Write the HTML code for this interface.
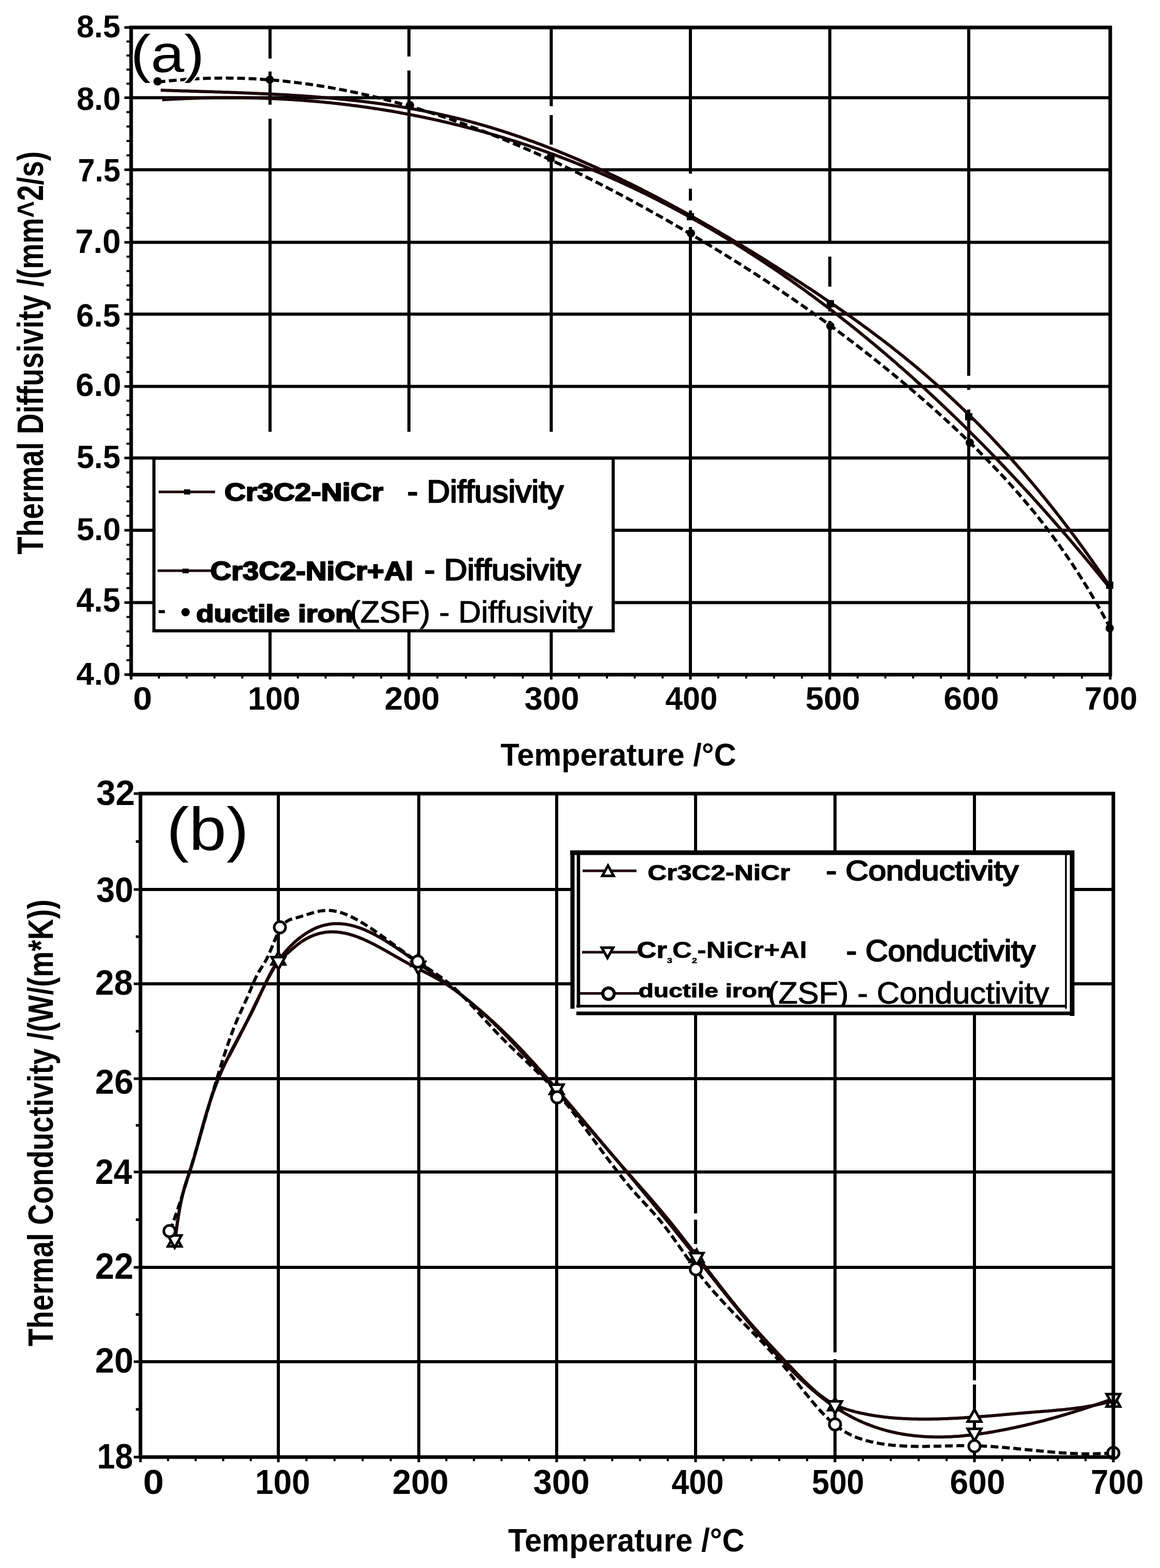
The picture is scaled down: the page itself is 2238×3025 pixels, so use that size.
<!DOCTYPE html>
<html><head><meta charset="utf-8"><title>Thermal diffusivity and conductivity</title>
<style>html,body{margin:0;padding:0;background:#fff;}svg{display:block;}</style></head>
<body><svg width="2238" height="3025" viewBox="0 0 2238 3025"><rect width="2238" height="3025" fill="#fff"/>
<defs><clipPath id="clb3"><rect x="1100" y="1880" width="980" height="63"/></clipPath></defs>
<line x1="253" y1="188.5" x2="2142" y2="188.5" stroke="#000" stroke-width="6" />
<line x1="253" y1="327.5" x2="2142" y2="327.5" stroke="#000" stroke-width="6" />
<line x1="253" y1="467.5" x2="2142" y2="467.5" stroke="#000" stroke-width="6" />
<line x1="253" y1="606" x2="2142" y2="606" stroke="#000" stroke-width="6" />
<line x1="253" y1="745.5" x2="2142" y2="745.5" stroke="#000" stroke-width="6" />
<line x1="253" y1="883.5" x2="2142" y2="883.5" stroke="#000" stroke-width="6" />
<line x1="253" y1="1023" x2="2142" y2="1023" stroke="#000" stroke-width="6" />
<line x1="253" y1="1162.5" x2="2142" y2="1162.5" stroke="#000" stroke-width="6" />
<line x1="521" y1="53" x2="521" y2="113" stroke="#000" stroke-width="6" />
<line x1="521" y1="138" x2="521" y2="202" stroke="#000" stroke-width="6" />
<line x1="521" y1="229" x2="521" y2="833" stroke="#000" stroke-width="6" />
<line x1="521" y1="881" x2="521" y2="1301.5" stroke="#000" stroke-width="6" />
<line x1="789" y1="53" x2="789" y2="109" stroke="#000" stroke-width="6" />
<line x1="789" y1="136" x2="789" y2="833" stroke="#000" stroke-width="6" />
<line x1="789" y1="881" x2="789" y2="1301.5" stroke="#000" stroke-width="6" />
<line x1="1063.5" y1="53" x2="1063.5" y2="205" stroke="#000" stroke-width="6" />
<line x1="1063.5" y1="222" x2="1063.5" y2="279" stroke="#000" stroke-width="6" />
<line x1="1063.5" y1="297" x2="1063.5" y2="833" stroke="#000" stroke-width="6" />
<line x1="1063.5" y1="881" x2="1063.5" y2="1301.5" stroke="#000" stroke-width="6" />
<line x1="1332" y1="53" x2="1332" y2="335" stroke="#000" stroke-width="6" />
<line x1="1332" y1="364" x2="1332" y2="387" stroke="#000" stroke-width="6" />
<line x1="1332" y1="406" x2="1332" y2="424" stroke="#000" stroke-width="6" />
<line x1="1332" y1="438" x2="1332" y2="1301.5" stroke="#000" stroke-width="6" />
<line x1="1601" y1="53" x2="1601" y2="466" stroke="#000" stroke-width="6" />
<line x1="1601" y1="495" x2="1601" y2="553" stroke="#000" stroke-width="6" />
<line x1="1601" y1="583" x2="1601" y2="601" stroke="#000" stroke-width="6" />
<line x1="1601" y1="619" x2="1601" y2="1301.5" stroke="#000" stroke-width="6" />
<line x1="1869" y1="53" x2="1869" y2="725" stroke="#000" stroke-width="6" />
<line x1="1869" y1="742" x2="1869" y2="752" stroke="#000" stroke-width="6" />
<line x1="1869" y1="790" x2="1869" y2="1301.5" stroke="#000" stroke-width="6" />
<line x1="244" y1="80.1" x2="252" y2="80.1" stroke="#000" stroke-width="4" />
<line x1="244" y1="107.2" x2="252" y2="107.2" stroke="#000" stroke-width="4" />
<line x1="244" y1="134.3" x2="252" y2="134.3" stroke="#000" stroke-width="4" />
<line x1="244" y1="161.4" x2="252" y2="161.4" stroke="#000" stroke-width="4" />
<line x1="244" y1="216.3" x2="252" y2="216.3" stroke="#000" stroke-width="4" />
<line x1="244" y1="244.1" x2="252" y2="244.1" stroke="#000" stroke-width="4" />
<line x1="244" y1="271.9" x2="252" y2="271.9" stroke="#000" stroke-width="4" />
<line x1="244" y1="299.7" x2="252" y2="299.7" stroke="#000" stroke-width="4" />
<line x1="244" y1="355.5" x2="252" y2="355.5" stroke="#000" stroke-width="4" />
<line x1="244" y1="383.5" x2="252" y2="383.5" stroke="#000" stroke-width="4" />
<line x1="244" y1="411.5" x2="252" y2="411.5" stroke="#000" stroke-width="4" />
<line x1="244" y1="439.5" x2="252" y2="439.5" stroke="#000" stroke-width="4" />
<line x1="244" y1="495.2" x2="252" y2="495.2" stroke="#000" stroke-width="4" />
<line x1="244" y1="522.9" x2="252" y2="522.9" stroke="#000" stroke-width="4" />
<line x1="244" y1="550.6" x2="252" y2="550.6" stroke="#000" stroke-width="4" />
<line x1="244" y1="578.3" x2="252" y2="578.3" stroke="#000" stroke-width="4" />
<line x1="244" y1="633.9" x2="252" y2="633.9" stroke="#000" stroke-width="4" />
<line x1="244" y1="661.8" x2="252" y2="661.8" stroke="#000" stroke-width="4" />
<line x1="244" y1="689.7" x2="252" y2="689.7" stroke="#000" stroke-width="4" />
<line x1="244" y1="717.6" x2="252" y2="717.6" stroke="#000" stroke-width="4" />
<line x1="244" y1="773.1" x2="252" y2="773.1" stroke="#000" stroke-width="4" />
<line x1="244" y1="800.7" x2="252" y2="800.7" stroke="#000" stroke-width="4" />
<line x1="244" y1="828.3" x2="252" y2="828.3" stroke="#000" stroke-width="4" />
<line x1="244" y1="855.9" x2="252" y2="855.9" stroke="#000" stroke-width="4" />
<line x1="244" y1="911.4" x2="252" y2="911.4" stroke="#000" stroke-width="4" />
<line x1="244" y1="939.3" x2="252" y2="939.3" stroke="#000" stroke-width="4" />
<line x1="244" y1="967.2" x2="252" y2="967.2" stroke="#000" stroke-width="4" />
<line x1="244" y1="995.1" x2="252" y2="995.1" stroke="#000" stroke-width="4" />
<line x1="244" y1="1050.9" x2="252" y2="1050.9" stroke="#000" stroke-width="4" />
<line x1="244" y1="1078.8" x2="252" y2="1078.8" stroke="#000" stroke-width="4" />
<line x1="244" y1="1106.7" x2="252" y2="1106.7" stroke="#000" stroke-width="4" />
<line x1="244" y1="1134.6" x2="252" y2="1134.6" stroke="#000" stroke-width="4" />
<line x1="244" y1="1190.3" x2="252" y2="1190.3" stroke="#000" stroke-width="4" />
<line x1="244" y1="1218.1" x2="252" y2="1218.1" stroke="#000" stroke-width="4" />
<line x1="244" y1="1245.9" x2="252" y2="1245.9" stroke="#000" stroke-width="4" />
<line x1="244" y1="1273.7" x2="252" y2="1273.7" stroke="#000" stroke-width="4" />
<line x1="240" y1="53" x2="252" y2="53" stroke="#000" stroke-width="5" />
<line x1="240" y1="188.5" x2="252" y2="188.5" stroke="#000" stroke-width="5" />
<line x1="240" y1="327.5" x2="252" y2="327.5" stroke="#000" stroke-width="5" />
<line x1="240" y1="467.5" x2="252" y2="467.5" stroke="#000" stroke-width="5" />
<line x1="240" y1="606" x2="252" y2="606" stroke="#000" stroke-width="5" />
<line x1="240" y1="745.5" x2="252" y2="745.5" stroke="#000" stroke-width="5" />
<line x1="240" y1="883.5" x2="252" y2="883.5" stroke="#000" stroke-width="5" />
<line x1="240" y1="1023" x2="252" y2="1023" stroke="#000" stroke-width="5" />
<line x1="240" y1="1162.5" x2="252" y2="1162.5" stroke="#000" stroke-width="5" />
<line x1="240" y1="1301.5" x2="252" y2="1301.5" stroke="#000" stroke-width="5" />
<line x1="306.6" y1="1300" x2="306.6" y2="1309" stroke="#000" stroke-width="4" />
<line x1="360.2" y1="1300" x2="360.2" y2="1309" stroke="#000" stroke-width="4" />
<line x1="413.8" y1="1300" x2="413.8" y2="1309" stroke="#000" stroke-width="4" />
<line x1="467.4" y1="1300" x2="467.4" y2="1309" stroke="#000" stroke-width="4" />
<line x1="574.6" y1="1300" x2="574.6" y2="1309" stroke="#000" stroke-width="4" />
<line x1="628.2" y1="1300" x2="628.2" y2="1309" stroke="#000" stroke-width="4" />
<line x1="681.8" y1="1300" x2="681.8" y2="1309" stroke="#000" stroke-width="4" />
<line x1="735.4" y1="1300" x2="735.4" y2="1309" stroke="#000" stroke-width="4" />
<line x1="843.9" y1="1300" x2="843.9" y2="1309" stroke="#000" stroke-width="4" />
<line x1="898.8" y1="1300" x2="898.8" y2="1309" stroke="#000" stroke-width="4" />
<line x1="953.7" y1="1300" x2="953.7" y2="1309" stroke="#000" stroke-width="4" />
<line x1="1008.6" y1="1300" x2="1008.6" y2="1309" stroke="#000" stroke-width="4" />
<line x1="1117.2" y1="1300" x2="1117.2" y2="1309" stroke="#000" stroke-width="4" />
<line x1="1170.9" y1="1300" x2="1170.9" y2="1309" stroke="#000" stroke-width="4" />
<line x1="1224.6" y1="1300" x2="1224.6" y2="1309" stroke="#000" stroke-width="4" />
<line x1="1278.3" y1="1300" x2="1278.3" y2="1309" stroke="#000" stroke-width="4" />
<line x1="1385.8" y1="1300" x2="1385.8" y2="1309" stroke="#000" stroke-width="4" />
<line x1="1439.6" y1="1300" x2="1439.6" y2="1309" stroke="#000" stroke-width="4" />
<line x1="1493.4" y1="1300" x2="1493.4" y2="1309" stroke="#000" stroke-width="4" />
<line x1="1547.2" y1="1300" x2="1547.2" y2="1309" stroke="#000" stroke-width="4" />
<line x1="1654.6" y1="1300" x2="1654.6" y2="1309" stroke="#000" stroke-width="4" />
<line x1="1708.2" y1="1300" x2="1708.2" y2="1309" stroke="#000" stroke-width="4" />
<line x1="1761.8" y1="1300" x2="1761.8" y2="1309" stroke="#000" stroke-width="4" />
<line x1="1815.4" y1="1300" x2="1815.4" y2="1309" stroke="#000" stroke-width="4" />
<line x1="1923.6" y1="1300" x2="1923.6" y2="1309" stroke="#000" stroke-width="4" />
<line x1="1978.2" y1="1300" x2="1978.2" y2="1309" stroke="#000" stroke-width="4" />
<line x1="2032.8" y1="1300" x2="2032.8" y2="1309" stroke="#000" stroke-width="4" />
<line x1="2087.4" y1="1300" x2="2087.4" y2="1309" stroke="#000" stroke-width="4" />
<line x1="253" y1="1300" x2="253" y2="1311" stroke="#000" stroke-width="5" />
<line x1="521" y1="1300" x2="521" y2="1311" stroke="#000" stroke-width="5" />
<line x1="789" y1="1300" x2="789" y2="1311" stroke="#000" stroke-width="5" />
<line x1="1063.5" y1="1300" x2="1063.5" y2="1311" stroke="#000" stroke-width="5" />
<line x1="1332" y1="1300" x2="1332" y2="1311" stroke="#000" stroke-width="5" />
<line x1="1601" y1="1300" x2="1601" y2="1311" stroke="#000" stroke-width="5" />
<line x1="1869" y1="1300" x2="1869" y2="1311" stroke="#000" stroke-width="5" />
<line x1="2142" y1="1300" x2="2142" y2="1311" stroke="#000" stroke-width="5" />
<path d="M310.0,174.0 L313.0,174.1 L316.0,174.2 L319.0,174.3 L322.0,174.4 L325.0,174.5 L328.0,174.6 L331.0,174.7 L334.0,174.8 L337.0,174.9 L340.0,175.0 L343.0,175.1 L346.0,175.2 L349.0,175.3 L352.0,175.4 L355.0,175.5 L358.0,175.5 L361.0,175.6 L364.0,175.7 L367.0,175.8 L370.0,175.9 L373.0,176.0 L376.0,176.1 L379.0,176.2 L382.0,176.3 L385.0,176.4 L388.0,176.5 L391.0,176.6 L394.0,176.7 L397.0,176.7 L400.0,176.8 L403.0,176.9 L406.0,177.0 L409.0,177.1 L412.0,177.2 L415.0,177.3 L418.0,177.4 L421.0,177.5 L424.0,177.6 L427.0,177.7 L430.0,177.8 L433.0,177.9 L436.0,178.0 L439.0,178.1 L442.0,178.2 L445.0,178.3 L448.0,178.4 L451.0,178.5 L454.0,178.6 L457.0,178.7 L460.0,178.9 L463.0,179.0 L466.0,179.1 L469.0,179.2 L472.0,179.3 L475.0,179.4 L478.0,179.5 L481.0,179.7 L484.0,179.8 L487.0,179.9 L490.0,180.0 L493.0,180.2 L496.0,180.3 L499.0,180.4 L502.0,180.6 L505.0,180.7 L508.0,180.8 L511.0,181.0 L514.0,181.1 L517.0,181.3 L520.0,181.4 L523.0,181.5 L526.0,181.7 L529.0,181.8 L532.0,182.0 L535.0,182.2 L538.0,182.3 L541.0,182.5 L544.0,182.6 L547.0,182.8 L550.0,183.0 L553.0,183.1 L556.0,183.3 L559.0,183.5 L562.0,183.7 L565.0,183.9 L568.0,184.0 L571.0,184.2 L574.0,184.4 L577.0,184.6 L580.0,184.8 L583.0,185.0 L586.0,185.2 L589.0,185.4 L592.0,185.6 L595.0,185.9 L598.0,186.1 L601.0,186.3 L604.0,186.5 L607.0,186.7 L610.0,187.0 L613.0,187.2 L616.0,187.4 L619.0,187.7 L622.0,187.9 L625.0,188.2 L628.0,188.4 L631.0,188.7 L634.0,189.0 L637.0,189.2 L640.0,189.5 L643.0,189.8 L646.0,190.0 L649.0,190.3 L652.0,190.6 L655.0,190.9 L658.0,191.2 L661.0,191.5 L664.0,191.8 L667.0,192.1 L670.0,192.4 L673.0,192.7 L676.0,193.0 L679.0,193.4 L682.0,193.7 L685.0,194.0 L688.0,194.3 L691.0,194.7 L694.0,195.0 L697.0,195.4 L700.0,195.7 L703.0,196.1 L706.0,196.5 L709.0,196.8 L712.0,197.2 L715.0,197.6 L718.0,198.0 L721.0,198.4 L724.0,198.8 L727.0,199.2 L730.0,199.6 L733.0,200.0 L736.0,200.4 L739.0,200.8 L742.0,201.3 L745.0,201.7 L748.0,202.2 L751.0,202.6 L754.0,203.0 L757.0,203.5 L760.0,204.0 L763.0,204.4 L766.0,204.9 L769.0,205.4 L772.0,205.9 L775.0,206.4 L778.0,206.9 L781.0,207.4 L784.0,207.9 L787.0,208.4 L790.0,208.9 L793.0,209.5 L796.0,210.0 L799.0,210.5 L802.0,211.1 L805.0,211.6 L808.0,212.2 L811.0,212.8 L814.0,213.3 L817.0,213.9 L820.0,214.5 L823.0,215.1 L826.0,215.7 L829.0,216.3 L832.0,216.9 L835.0,217.5 L838.0,218.2 L841.0,218.8 L844.0,219.5 L847.0,220.1 L850.0,220.8 L853.0,221.4 L856.0,222.1 L859.0,222.8 L862.0,223.5 L865.0,224.2 L868.0,224.9 L871.0,225.6 L874.0,226.3 L877.0,227.0 L880.0,227.7 L883.0,228.5 L886.0,229.2 L889.0,230.0 L892.0,230.7 L895.0,231.5 L898.0,232.3 L901.0,233.1 L904.0,233.8 L907.0,234.6 L910.0,235.5 L913.0,236.3 L916.0,237.1 L919.0,237.9 L922.0,238.8 L925.0,239.6 L928.0,240.5 L931.0,241.3 L934.0,242.2 L937.0,243.1 L940.0,243.9 L943.0,244.8 L946.0,245.7 L949.0,246.6 L952.0,247.6 L955.0,248.5 L958.0,249.4 L961.0,250.3 L964.0,251.3 L967.0,252.2 L970.0,253.2 L973.0,254.2 L976.0,255.1 L979.0,256.1 L982.0,257.1 L985.0,258.1 L988.0,259.1 L991.0,260.1 L994.0,261.1 L997.0,262.1 L1000.0,263.2 L1003.0,264.2 L1006.0,265.2 L1009.0,266.3 L1012.0,267.4 L1015.0,268.4 L1018.0,269.5 L1021.0,270.6 L1024.0,271.7 L1027.0,272.7 L1030.0,273.8 L1033.0,275.0 L1036.0,276.1 L1039.0,277.2 L1042.0,278.3 L1045.0,279.4 L1048.0,280.6 L1051.0,281.7 L1054.0,282.9 L1057.0,284.0 L1060.0,285.2 L1063.0,286.4 L1066.0,287.6 L1069.0,288.8 L1072.0,289.9 L1075.0,291.1 L1078.0,292.4 L1081.0,293.6 L1084.0,294.8 L1087.0,296.0 L1090.0,297.2 L1093.0,298.5 L1096.0,299.7 L1099.0,301.0 L1102.0,302.2 L1105.0,303.5 L1108.0,304.8 L1111.0,306.0 L1114.0,307.3 L1117.0,308.6 L1120.0,309.9 L1123.0,311.2 L1126.0,312.5 L1129.0,313.8 L1132.0,315.2 L1135.0,316.5 L1138.0,317.8 L1141.0,319.2 L1144.0,320.5 L1147.0,321.8 L1150.0,323.2 L1153.0,324.6 L1156.0,325.9 L1159.0,327.3 L1162.0,328.7 L1165.0,330.1 L1168.0,331.5 L1171.0,332.9 L1174.0,334.3 L1177.0,335.7 L1180.0,337.1 L1183.0,338.5 L1186.0,339.9 L1189.0,341.4 L1192.0,342.8 L1195.0,344.2 L1198.0,345.7 L1201.0,347.2 L1204.0,348.6 L1207.0,350.1 L1210.0,351.6 L1213.0,353.0 L1216.0,354.5 L1219.0,356.0 L1222.0,357.5 L1225.0,359.0 L1228.0,360.5 L1231.0,362.0 L1234.0,363.5 L1237.0,365.0 L1240.0,366.6 L1243.0,368.1 L1246.0,369.6 L1249.0,371.2 L1252.0,372.7 L1255.0,374.3 L1258.0,375.8 L1261.0,377.4 L1264.0,379.0 L1267.0,380.5 L1270.0,382.1 L1273.0,383.7 L1276.0,385.3 L1279.0,386.9 L1282.0,388.5 L1285.0,390.1 L1288.0,391.7 L1291.0,393.3 L1294.0,394.9 L1297.0,396.5 L1300.0,398.2 L1303.0,399.8 L1306.0,401.4 L1309.0,403.1 L1312.0,404.7 L1315.0,406.4 L1318.0,408.0 L1321.0,409.7 L1324.0,411.4 L1327.0,413.0 L1330.0,414.7 L1333.0,416.4 L1336.0,418.1 L1339.0,419.8 L1342.0,421.5 L1345.0,423.2 L1348.0,424.9 L1351.0,426.6 L1354.0,428.3 L1357.0,430.0 L1360.0,431.7 L1363.0,433.5 L1366.0,435.2 L1369.0,436.9 L1372.0,438.7 L1375.0,440.4 L1378.0,442.2 L1381.0,443.9 L1384.0,445.7 L1387.0,447.4 L1390.0,449.2 L1393.0,451.0 L1396.0,452.7 L1399.0,454.5 L1402.0,456.3 L1405.0,458.1 L1408.0,459.9 L1411.0,461.7 L1414.0,463.5 L1417.0,465.3 L1420.0,467.1 L1423.0,468.9 L1426.0,470.7 L1429.0,472.5 L1432.0,474.3 L1435.0,476.2 L1438.0,478.0 L1441.0,479.8 L1444.0,481.7 L1447.0,483.5 L1450.0,485.4 L1453.0,487.2 L1456.0,489.1 L1459.0,490.9 L1462.0,492.8 L1465.0,494.6 L1468.0,496.5 L1471.0,498.4 L1474.0,500.3 L1477.0,502.1 L1480.0,504.0 L1483.0,505.9 L1486.0,507.8 L1489.0,509.7 L1492.0,511.6 L1495.0,513.5 L1498.0,515.4 L1501.0,517.3 L1504.0,519.2 L1507.0,521.1 L1510.0,523.0 L1513.0,525.0 L1516.0,526.9 L1519.0,528.8 L1522.0,530.7 L1525.0,532.7 L1528.0,534.6 L1531.0,536.5 L1534.0,538.5 L1537.0,540.4 L1540.0,542.4 L1543.0,544.3 L1546.0,546.3 L1549.0,548.3 L1552.0,550.2 L1555.0,552.2 L1558.0,554.2 L1561.0,556.1 L1564.0,558.1 L1567.0,560.1 L1570.0,562.1 L1573.0,564.1 L1576.0,566.1 L1579.0,568.1 L1582.0,570.1 L1585.0,572.1 L1588.0,574.2 L1591.0,576.2 L1594.0,578.2 L1597.0,580.2 L1600.0,582.3 L1603.0,584.3 L1606.0,586.4 L1609.0,588.4 L1612.0,590.5 L1615.0,592.6 L1618.0,594.7 L1621.0,596.7 L1624.0,598.8 L1627.0,600.9 L1630.0,603.0 L1633.0,605.1 L1636.0,607.2 L1639.0,609.4 L1642.0,611.5 L1645.0,613.6 L1648.0,615.8 L1651.0,617.9 L1654.0,620.1 L1657.0,622.2 L1660.0,624.4 L1663.0,626.6 L1666.0,628.8 L1669.0,631.0 L1672.0,633.2 L1675.0,635.4 L1678.0,637.6 L1681.0,639.8 L1684.0,642.1 L1687.0,644.3 L1690.0,646.6 L1693.0,648.8 L1696.0,651.1 L1699.0,653.4 L1702.0,655.6 L1705.0,657.9 L1708.0,660.2 L1711.0,662.6 L1714.0,664.9 L1717.0,667.2 L1720.0,669.6 L1723.0,671.9 L1726.0,674.3 L1729.0,676.6 L1732.0,679.0 L1735.0,681.4 L1738.0,683.8 L1741.0,686.2 L1744.0,688.6 L1747.0,691.1 L1750.0,693.5 L1753.0,696.0 L1756.0,698.4 L1759.0,700.9 L1762.0,703.4 L1765.0,705.9 L1768.0,708.4 L1771.0,710.9 L1774.0,713.4 L1777.0,716.0 L1780.0,718.5 L1783.0,721.1 L1786.0,723.7 L1789.0,726.2 L1792.0,728.8 L1795.0,731.4 L1798.0,734.1 L1801.0,736.7 L1804.0,739.3 L1807.0,742.0 L1810.0,744.7 L1813.0,747.4 L1816.0,750.1 L1819.0,752.8 L1822.0,755.5 L1825.0,758.2 L1828.0,761.0 L1831.0,763.7 L1834.0,766.5 L1837.0,769.3 L1840.0,772.1 L1843.0,774.9 L1846.0,777.7 L1849.0,780.6 L1852.0,783.4 L1855.0,786.3 L1858.0,789.2 L1861.0,792.1 L1864.0,795.0 L1867.0,797.9 L1870.0,800.8 L1873.0,803.8 L1876.0,806.7 L1879.0,809.7 L1882.0,812.7 L1885.0,815.7 L1888.0,818.7 L1891.0,821.7 L1894.0,824.8 L1897.0,827.8 L1900.0,830.9 L1903.0,834.0 L1906.0,837.1 L1909.0,840.2 L1912.0,843.4 L1915.0,846.5 L1918.0,849.7 L1921.0,852.9 L1924.0,856.1 L1927.0,859.3 L1930.0,862.5 L1933.0,865.7 L1936.0,869.0 L1939.0,872.2 L1942.0,875.5 L1945.0,878.8 L1948.0,882.1 L1951.0,885.5 L1954.0,888.8 L1957.0,892.2 L1960.0,895.6 L1963.0,899.0 L1966.0,902.4 L1969.0,905.8 L1972.0,909.2 L1975.0,912.7 L1978.0,916.2 L1981.0,919.7 L1984.0,923.2 L1987.0,926.7 L1990.0,930.2 L1993.0,933.8 L1996.0,937.4 L1999.0,940.9 L2002.0,944.6 L2005.0,948.2 L2008.0,951.8 L2011.0,955.5 L2014.0,959.1 L2017.0,962.8 L2020.0,966.5 L2023.0,970.3 L2026.0,974.0 L2029.0,977.8 L2032.0,981.5 L2035.0,985.3 L2038.0,989.2 L2041.0,993.0 L2044.0,996.8 L2047.0,1000.7 L2050.0,1004.6 L2053.0,1008.5 L2056.0,1012.4 L2059.0,1016.3 L2062.0,1020.3 L2065.0,1024.3 L2068.0,1028.2 L2071.0,1032.3 L2074.0,1036.3 L2077.0,1040.3 L2080.0,1044.4 L2083.0,1048.5 L2086.0,1052.6 L2089.0,1056.7 L2092.0,1060.8 L2095.0,1065.0 L2098.0,1069.2 L2101.0,1073.4 L2104.0,1077.6 L2107.0,1081.8 L2110.0,1086.1 L2113.0,1090.3 L2116.0,1094.6 L2119.0,1098.9 L2122.0,1103.3 L2125.0,1107.6 L2128.0,1112.0 L2131.0,1116.4 L2134.0,1120.8 L2137.0,1125.2 L2140.0,1129.7 L2141.0,1131.1" fill="none" stroke="#1c0509" stroke-width="6" stroke-linejoin="round"/>
<path d="M313.0,192.5 L316.0,192.3 L319.0,192.1 L322.0,191.9 L325.0,191.7 L328.0,191.6 L331.0,191.4 L334.0,191.3 L337.0,191.1 L340.0,190.9 L343.0,190.8 L346.0,190.7 L349.0,190.5 L352.0,190.4 L355.0,190.3 L358.0,190.1 L361.0,190.0 L364.0,189.9 L367.0,189.8 L370.0,189.7 L373.0,189.6 L376.0,189.5 L379.0,189.4 L382.0,189.3 L385.0,189.2 L388.0,189.1 L391.0,189.0 L394.0,189.0 L397.0,188.9 L400.0,188.8 L403.0,188.8 L406.0,188.7 L409.0,188.7 L412.0,188.6 L415.0,188.6 L418.0,188.5 L421.0,188.5 L424.0,188.5 L427.0,188.4 L430.0,188.4 L433.0,188.4 L436.0,188.4 L439.0,188.4 L442.0,188.4 L445.0,188.4 L448.0,188.4 L451.0,188.4 L454.0,188.4 L457.0,188.5 L460.0,188.5 L463.0,188.5 L466.0,188.5 L469.0,188.6 L472.0,188.6 L475.0,188.7 L478.0,188.7 L481.0,188.8 L484.0,188.8 L487.0,188.9 L490.0,189.0 L493.0,189.1 L496.0,189.1 L499.0,189.2 L502.0,189.3 L505.0,189.4 L508.0,189.5 L511.0,189.6 L514.0,189.7 L517.0,189.8 L520.0,190.0 L523.0,190.1 L526.0,190.2 L529.0,190.3 L532.0,190.5 L535.0,190.6 L538.0,190.8 L541.0,190.9 L544.0,191.1 L547.0,191.2 L550.0,191.4 L553.0,191.6 L556.0,191.8 L559.0,191.9 L562.0,192.1 L565.0,192.3 L568.0,192.5 L571.0,192.7 L574.0,192.9 L577.0,193.1 L580.0,193.3 L583.0,193.5 L586.0,193.8 L589.0,194.0 L592.0,194.2 L595.0,194.5 L598.0,194.7 L601.0,195.0 L604.0,195.2 L607.0,195.5 L610.0,195.7 L613.0,196.0 L616.0,196.3 L619.0,196.6 L622.0,196.8 L625.0,197.1 L628.0,197.4 L631.0,197.7 L634.0,198.0 L637.0,198.3 L640.0,198.6 L643.0,199.0 L646.0,199.3 L649.0,199.6 L652.0,199.9 L655.0,200.3 L658.0,200.6 L661.0,201.0 L664.0,201.3 L667.0,201.7 L670.0,202.0 L673.0,202.4 L676.0,202.8 L679.0,203.2 L682.0,203.6 L685.0,203.9 L688.0,204.3 L691.0,204.7 L694.0,205.1 L697.0,205.5 L700.0,206.0 L703.0,206.4 L706.0,206.8 L709.0,207.2 L712.0,207.7 L715.0,208.1 L718.0,208.6 L721.0,209.0 L724.0,209.5 L727.0,209.9 L730.0,210.4 L733.0,210.9 L736.0,211.3 L739.0,211.8 L742.0,212.3 L745.0,212.8 L748.0,213.3 L751.0,213.8 L754.0,214.3 L757.0,214.8 L760.0,215.3 L763.0,215.9 L766.0,216.4 L769.0,216.9 L772.0,217.5 L775.0,218.0 L778.0,218.6 L781.0,219.1 L784.0,219.7 L787.0,220.2 L790.0,220.8 L793.0,221.4 L796.0,222.0 L799.0,222.6 L802.0,223.2 L805.0,223.8 L808.0,224.4 L811.0,225.0 L814.0,225.6 L817.0,226.2 L820.0,226.8 L823.0,227.5 L826.0,228.1 L829.0,228.7 L832.0,229.4 L835.0,230.0 L838.0,230.7 L841.0,231.4 L844.0,232.0 L847.0,232.7 L850.0,233.4 L853.0,234.1 L856.0,234.8 L859.0,235.5 L862.0,236.2 L865.0,236.9 L868.0,237.6 L871.0,238.3 L874.0,239.0 L877.0,239.8 L880.0,240.5 L883.0,241.2 L886.0,242.0 L889.0,242.7 L892.0,243.5 L895.0,244.3 L898.0,245.0 L901.0,245.8 L904.0,246.6 L907.0,247.4 L910.0,248.2 L913.0,249.0 L916.0,249.8 L919.0,250.6 L922.0,251.4 L925.0,252.2 L928.0,253.0 L931.0,253.9 L934.0,254.7 L937.0,255.6 L940.0,256.4 L943.0,257.3 L946.0,258.1 L949.0,259.0 L952.0,259.9 L955.0,260.7 L958.0,261.6 L961.0,262.5 L964.0,263.4 L967.0,264.3 L970.0,265.2 L973.0,266.1 L976.0,267.1 L979.0,268.0 L982.0,268.9 L985.0,269.8 L988.0,270.8 L991.0,271.7 L994.0,272.7 L997.0,273.6 L1000.0,274.6 L1003.0,275.6 L1006.0,276.6 L1009.0,277.5 L1012.0,278.5 L1015.0,279.5 L1018.0,280.5 L1021.0,281.5 L1024.0,282.5 L1027.0,283.6 L1030.0,284.6 L1033.0,285.6 L1036.0,286.7 L1039.0,287.7 L1042.0,288.7 L1045.0,289.8 L1048.0,290.9 L1051.0,291.9 L1054.0,293.0 L1057.0,294.1 L1060.0,295.2 L1063.0,296.3 L1066.0,297.3 L1069.0,298.4 L1072.0,299.6 L1075.0,300.7 L1078.0,301.8 L1081.0,302.9 L1084.0,304.1 L1087.0,305.2 L1090.0,306.3 L1093.0,307.5 L1096.0,308.6 L1099.0,309.8 L1102.0,311.0 L1105.0,312.1 L1108.0,313.3 L1111.0,314.5 L1114.0,315.7 L1117.0,316.9 L1120.0,318.1 L1123.0,319.3 L1126.0,320.5 L1129.0,321.8 L1132.0,323.0 L1135.0,324.2 L1138.0,325.5 L1141.0,326.7 L1144.0,328.0 L1147.0,329.2 L1150.0,330.5 L1153.0,331.8 L1156.0,333.1 L1159.0,334.4 L1162.0,335.7 L1165.0,336.9 L1168.0,338.3 L1171.0,339.6 L1174.0,340.9 L1177.0,342.2 L1180.0,343.5 L1183.0,344.9 L1186.0,346.2 L1189.0,347.6 L1192.0,348.9 L1195.0,350.3 L1198.0,351.7 L1201.0,353.0 L1204.0,354.4 L1207.0,355.8 L1210.0,357.2 L1213.0,358.6 L1216.0,360.0 L1219.0,361.4 L1222.0,362.8 L1225.0,364.3 L1228.0,365.7 L1231.0,367.1 L1234.0,368.6 L1237.0,370.0 L1240.0,371.5 L1243.0,372.9 L1246.0,374.4 L1249.0,375.9 L1252.0,377.4 L1255.0,378.9 L1258.0,380.4 L1261.0,381.9 L1264.0,383.4 L1267.0,384.9 L1270.0,386.4 L1273.0,388.0 L1276.0,389.5 L1279.0,391.0 L1282.0,392.6 L1285.0,394.1 L1288.0,395.7 L1291.0,397.3 L1294.0,398.8 L1297.0,400.4 L1300.0,402.0 L1303.0,403.6 L1306.0,405.2 L1309.0,406.8 L1312.0,408.4 L1315.0,410.1 L1318.0,411.7 L1321.0,413.3 L1324.0,415.0 L1327.0,416.6 L1330.0,418.3 L1333.0,419.9 L1336.0,421.6 L1339.0,423.3 L1342.0,424.9 L1345.0,426.6 L1348.0,428.3 L1351.0,430.0 L1354.0,431.7 L1357.0,433.5 L1360.0,435.2 L1363.0,436.9 L1366.0,438.6 L1369.0,440.4 L1372.0,442.1 L1375.0,443.9 L1378.0,445.7 L1381.0,447.4 L1384.0,449.2 L1387.0,451.0 L1390.0,452.8 L1393.0,454.6 L1396.0,456.4 L1399.0,458.2 L1402.0,460.0 L1405.0,461.8 L1408.0,463.6 L1411.0,465.5 L1414.0,467.3 L1417.0,469.2 L1420.0,471.0 L1423.0,472.9 L1426.0,474.8 L1429.0,476.7 L1432.0,478.5 L1435.0,480.4 L1438.0,482.3 L1441.0,484.2 L1444.0,486.2 L1447.0,488.1 L1450.0,490.0 L1453.0,491.9 L1456.0,493.9 L1459.0,495.8 L1462.0,497.8 L1465.0,499.7 L1468.0,501.7 L1471.0,503.7 L1474.0,505.7 L1477.0,507.7 L1480.0,509.7 L1483.0,511.7 L1486.0,513.7 L1489.0,515.7 L1492.0,517.7 L1495.0,519.7 L1498.0,521.8 L1501.0,523.8 L1504.0,525.9 L1507.0,527.9 L1510.0,530.0 L1513.0,532.1 L1516.0,534.2 L1519.0,536.3 L1522.0,538.4 L1525.0,540.5 L1528.0,542.6 L1531.0,544.7 L1534.0,546.8 L1537.0,548.9 L1540.0,551.1 L1543.0,553.2 L1546.0,555.4 L1549.0,557.5 L1552.0,559.7 L1555.0,561.9 L1558.0,564.1 L1561.0,566.3 L1564.0,568.5 L1567.0,570.7 L1570.0,572.9 L1573.0,575.1 L1576.0,577.3 L1579.0,579.6 L1582.0,581.8 L1585.0,584.0 L1588.0,586.3 L1591.0,588.6 L1594.0,590.8 L1597.0,593.1 L1600.0,595.4 L1603.0,597.7 L1606.0,600.0 L1609.0,602.3 L1612.0,604.6 L1615.0,606.9 L1618.0,609.2 L1621.0,611.6 L1624.0,613.9 L1627.0,616.3 L1630.0,618.6 L1633.0,621.0 L1636.0,623.4 L1639.0,625.7 L1642.0,628.1 L1645.0,630.5 L1648.0,632.9 L1651.0,635.3 L1654.0,637.8 L1657.0,640.2 L1660.0,642.6 L1663.0,645.1 L1666.0,647.5 L1669.0,650.0 L1672.0,652.4 L1675.0,654.9 L1678.0,657.4 L1681.0,659.8 L1684.0,662.3 L1687.0,664.8 L1690.0,667.3 L1693.0,669.9 L1696.0,672.4 L1699.0,674.9 L1702.0,677.4 L1705.0,680.0 L1708.0,682.5 L1711.0,685.1 L1714.0,687.7 L1717.0,690.2 L1720.0,692.8 L1723.0,695.4 L1726.0,698.0 L1729.0,700.6 L1732.0,703.2 L1735.0,705.9 L1738.0,708.5 L1741.0,711.1 L1744.0,713.8 L1747.0,716.4 L1750.0,719.1 L1753.0,721.7 L1756.0,724.4 L1759.0,727.1 L1762.0,729.8 L1765.0,732.5 L1768.0,735.2 L1771.0,737.9 L1774.0,740.6 L1777.0,743.4 L1780.0,746.1 L1783.0,748.8 L1786.0,751.6 L1789.0,754.3 L1792.0,757.1 L1795.0,759.9 L1798.0,762.7 L1801.0,765.5 L1804.0,768.3 L1807.0,771.1 L1810.0,773.9 L1813.0,776.7 L1816.0,779.5 L1819.0,782.4 L1822.0,785.2 L1825.0,788.1 L1828.0,790.9 L1831.0,793.8 L1834.0,796.7 L1837.0,799.6 L1840.0,802.4 L1843.0,805.3 L1846.0,808.3 L1849.0,811.2 L1852.0,814.1 L1855.0,817.0 L1858.0,820.0 L1861.0,822.9 L1864.0,825.9 L1867.0,828.8 L1870.0,831.8 L1873.0,834.8 L1876.0,837.8 L1879.0,840.8 L1882.0,843.8 L1885.0,846.8 L1888.0,849.8 L1891.0,852.8 L1894.0,855.9 L1897.0,858.9 L1900.0,862.0 L1903.0,865.0 L1906.0,868.1 L1909.0,871.2 L1912.0,874.3 L1915.0,877.3 L1918.0,880.4 L1921.0,883.6 L1924.0,886.7 L1927.0,889.8 L1930.0,892.9 L1933.0,896.1 L1936.0,899.2 L1939.0,902.4 L1942.0,905.5 L1945.0,908.7 L1948.0,911.9 L1951.0,915.1 L1954.0,918.3 L1957.0,921.5 L1960.0,924.7 L1963.0,927.9 L1966.0,931.2 L1969.0,934.4 L1972.0,937.6 L1975.0,940.9 L1978.0,944.2 L1981.0,947.4 L1984.0,950.7 L1987.0,954.0 L1990.0,957.3 L1993.0,960.6 L1996.0,963.9 L1999.0,967.2 L2002.0,970.6 L2005.0,973.9 L2008.0,977.2 L2011.0,980.6 L2014.0,984.0 L2017.0,987.3 L2020.0,990.7 L2023.0,994.1 L2026.0,997.5 L2029.0,1000.9 L2032.0,1004.3 L2035.0,1007.7 L2038.0,1011.2 L2041.0,1014.6 L2044.0,1018.1 L2047.0,1021.5 L2050.0,1025.0 L2053.0,1028.4 L2056.0,1031.9 L2059.0,1035.4 L2062.0,1038.9 L2065.0,1042.4 L2068.0,1045.9 L2071.0,1049.4 L2074.0,1053.0 L2077.0,1056.5 L2080.0,1060.1 L2083.0,1063.6 L2086.0,1067.2 L2089.0,1070.8 L2092.0,1074.3 L2095.0,1077.9 L2098.0,1081.5 L2101.0,1085.1 L2104.0,1088.7 L2107.0,1092.4 L2110.0,1096.0 L2113.0,1099.6 L2116.0,1103.3 L2119.0,1106.9 L2122.0,1110.6 L2125.0,1114.3 L2128.0,1118.0 L2131.0,1121.7 L2134.0,1125.4 L2137.0,1129.1 L2140.0,1132.8 L2141.0,1134.0" fill="none" stroke="#1c0509" stroke-width="6" stroke-linejoin="round"/>
<path d="M304.0,158.4 L307.0,158.1 L310.0,157.7 L313.0,157.4 L316.0,157.0 L319.0,156.7 L322.0,156.4 L325.0,156.1 L328.0,155.8 L331.0,155.5 L334.0,155.2 L337.0,154.9 L340.0,154.7 L343.0,154.4 L346.0,154.1 L349.0,153.9 L352.0,153.7 L355.0,153.4 L358.0,153.2 L361.0,153.0 L364.0,152.8 L367.0,152.6 L370.0,152.5 L373.0,152.3 L376.0,152.1 L379.0,152.0 L382.0,151.8 L385.0,151.7 L388.0,151.6 L391.0,151.4 L394.0,151.3 L397.0,151.2 L400.0,151.1 L403.0,151.0 L406.0,151.0 L409.0,150.9 L412.0,150.8 L415.0,150.8 L418.0,150.7 L421.0,150.7 L424.0,150.7 L427.0,150.6 L430.0,150.6 L433.0,150.6 L436.0,150.6 L439.0,150.6 L442.0,150.7 L445.0,150.7 L448.0,150.7 L451.0,150.8 L454.0,150.8 L457.0,150.9 L460.0,151.0 L463.0,151.1 L466.0,151.1 L469.0,151.2 L472.0,151.3 L475.0,151.4 L478.0,151.6 L481.0,151.7 L484.0,151.8 L487.0,152.0 L490.0,152.1 L493.0,152.3 L496.0,152.5 L499.0,152.6 L502.0,152.8 L505.0,153.0 L508.0,153.2 L511.0,153.4 L514.0,153.6 L517.0,153.8 L520.0,154.1 L523.0,154.3 L526.0,154.6 L529.0,154.8 L532.0,155.1 L535.0,155.3 L538.0,155.6 L541.0,155.9 L544.0,156.2 L547.0,156.5 L550.0,156.8 L553.0,157.1 L556.0,157.4 L559.0,157.8 L562.0,158.1 L565.0,158.5 L568.0,158.8 L571.0,159.2 L574.0,159.5 L577.0,159.9 L580.0,160.3 L583.0,160.7 L586.0,161.1 L589.0,161.5 L592.0,161.9 L595.0,162.3 L598.0,162.8 L601.0,163.2 L604.0,163.6 L607.0,164.1 L610.0,164.5 L613.0,165.0 L616.0,165.5 L619.0,166.0 L622.0,166.5 L625.0,166.9 L628.0,167.4 L631.0,168.0 L634.0,168.5 L637.0,169.0 L640.0,169.5 L643.0,170.1 L646.0,170.6 L649.0,171.2 L652.0,171.7 L655.0,172.3 L658.0,172.9 L661.0,173.4 L664.0,174.0 L667.0,174.6 L670.0,175.2 L673.0,175.8 L676.0,176.4 L679.0,177.1 L682.0,177.7 L685.0,178.3 L688.0,179.0 L691.0,179.6 L694.0,180.3 L697.0,181.0 L700.0,181.6 L703.0,182.3 L706.0,183.0 L709.0,183.7 L712.0,184.4 L715.0,185.1 L718.0,185.8 L721.0,186.5 L724.0,187.2 L727.0,188.0 L730.0,188.7 L733.0,189.5 L736.0,190.2 L739.0,191.0 L742.0,191.7 L745.0,192.5 L748.0,193.3 L751.0,194.1 L754.0,194.9 L757.0,195.7 L760.0,196.5 L763.0,197.3 L766.0,198.1 L769.0,198.9 L772.0,199.8 L775.0,200.6 L778.0,201.4 L781.0,202.3 L784.0,203.1 L787.0,204.0 L790.0,204.9 L793.0,205.8 L796.0,206.6 L799.0,207.5 L802.0,208.4 L805.0,209.3 L808.0,210.2 L811.0,211.1 L814.0,212.1 L817.0,213.0 L820.0,213.9 L823.0,214.9 L826.0,215.8 L829.0,216.8 L832.0,217.7 L835.0,218.7 L838.0,219.7 L841.0,220.6 L844.0,221.6 L847.0,222.6 L850.0,223.6 L853.0,224.6 L856.0,225.6 L859.0,226.6 L862.0,227.6 L865.0,228.7 L868.0,229.7 L871.0,230.7 L874.0,231.8 L877.0,232.8 L880.0,233.9 L883.0,234.9 L886.0,236.0 L889.0,237.1 L892.0,238.2 L895.0,239.2 L898.0,240.3 L901.0,241.4 L904.0,242.5 L907.0,243.6 L910.0,244.7 L913.0,245.9 L916.0,247.0 L919.0,248.1 L922.0,249.3 L925.0,250.4 L928.0,251.5 L931.0,252.7 L934.0,253.9 L937.0,255.0 L940.0,256.2 L943.0,257.4 L946.0,258.5 L949.0,259.7 L952.0,260.9 L955.0,262.1 L958.0,263.3 L961.0,264.5 L964.0,265.7 L967.0,267.0 L970.0,268.2 L973.0,269.4 L976.0,270.7 L979.0,271.9 L982.0,273.1 L985.0,274.4 L988.0,275.7 L991.0,276.9 L994.0,278.2 L997.0,279.5 L1000.0,280.7 L1003.0,282.0 L1006.0,283.3 L1009.0,284.6 L1012.0,285.9 L1015.0,287.2 L1018.0,288.5 L1021.0,289.8 L1024.0,291.2 L1027.0,292.5 L1030.0,293.8 L1033.0,295.1 L1036.0,296.5 L1039.0,297.8 L1042.0,299.2 L1045.0,300.5 L1048.0,301.9 L1051.0,303.3 L1054.0,304.6 L1057.0,306.0 L1060.0,307.4 L1063.0,308.8 L1066.0,310.2 L1069.0,311.6 L1072.0,313.0 L1075.0,314.4 L1078.0,315.8 L1081.0,317.2 L1084.0,318.6 L1087.0,320.0 L1090.0,321.5 L1093.0,322.9 L1096.0,324.4 L1099.0,325.8 L1102.0,327.2 L1105.0,328.7 L1108.0,330.2 L1111.0,331.6 L1114.0,333.1 L1117.0,334.6 L1120.0,336.0 L1123.0,337.5 L1126.0,339.0 L1129.0,340.5 L1132.0,342.0 L1135.0,343.5 L1138.0,345.0 L1141.0,346.5 L1144.0,348.0 L1147.0,349.5 L1150.0,351.1 L1153.0,352.6 L1156.0,354.1 L1159.0,355.7 L1162.0,357.2 L1165.0,358.8 L1168.0,360.3 L1171.0,361.9 L1174.0,363.4 L1177.0,365.0 L1180.0,366.5 L1183.0,368.1 L1186.0,369.7 L1189.0,371.3 L1192.0,372.9 L1195.0,374.4 L1198.0,376.0 L1201.0,377.6 L1204.0,379.2 L1207.0,380.8 L1210.0,382.4 L1213.0,384.1 L1216.0,385.7 L1219.0,387.3 L1222.0,388.9 L1225.0,390.6 L1228.0,392.2 L1231.0,393.8 L1234.0,395.5 L1237.0,397.1 L1240.0,398.8 L1243.0,400.4 L1246.0,402.1 L1249.0,403.7 L1252.0,405.4 L1255.0,407.1 L1258.0,408.8 L1261.0,410.4 L1264.0,412.1 L1267.0,413.8 L1270.0,415.5 L1273.0,417.2 L1276.0,418.9 L1279.0,420.6 L1282.0,422.3 L1285.0,424.0 L1288.0,425.7 L1291.0,427.4 L1294.0,429.2 L1297.0,430.9 L1300.0,432.6 L1303.0,434.3 L1306.0,436.1 L1309.0,437.8 L1312.0,439.6 L1315.0,441.3 L1318.0,443.1 L1321.0,444.8 L1324.0,446.6 L1327.0,448.3 L1330.0,450.1 L1333.0,451.9 L1336.0,453.6 L1339.0,455.4 L1342.0,457.2 L1345.0,459.0 L1348.0,460.7 L1351.0,462.5 L1354.0,464.3 L1357.0,466.1 L1360.0,467.9 L1363.0,469.7 L1366.0,471.5 L1369.0,473.3 L1372.0,475.2 L1375.0,477.0 L1378.0,478.8 L1381.0,480.6 L1384.0,482.5 L1387.0,484.3 L1390.0,486.1 L1393.0,488.0 L1396.0,489.8 L1399.0,491.7 L1402.0,493.5 L1405.0,495.4 L1408.0,497.3 L1411.0,499.1 L1414.0,501.0 L1417.0,502.9 L1420.0,504.8 L1423.0,506.6 L1426.0,508.5 L1429.0,510.4 L1432.0,512.3 L1435.0,514.2 L1438.0,516.1 L1441.0,518.0 L1444.0,520.0 L1447.0,521.9 L1450.0,523.8 L1453.0,525.7 L1456.0,527.7 L1459.0,529.6 L1462.0,531.6 L1465.0,533.5 L1468.0,535.5 L1471.0,537.4 L1474.0,539.4 L1477.0,541.3 L1480.0,543.3 L1483.0,545.3 L1486.0,547.3 L1489.0,549.3 L1492.0,551.3 L1495.0,553.3 L1498.0,555.3 L1501.0,557.3 L1504.0,559.3 L1507.0,561.3 L1510.0,563.3 L1513.0,565.4 L1516.0,567.4 L1519.0,569.4 L1522.0,571.5 L1525.0,573.5 L1528.0,575.6 L1531.0,577.6 L1534.0,579.7 L1537.0,581.8 L1540.0,583.8 L1543.0,585.9 L1546.0,588.0 L1549.0,590.1 L1552.0,592.2 L1555.0,594.3 L1558.0,596.4 L1561.0,598.5 L1564.0,600.7 L1567.0,602.8 L1570.0,604.9 L1573.0,607.0 L1576.0,609.2 L1579.0,611.3 L1582.0,613.5 L1585.0,615.7 L1588.0,617.8 L1591.0,620.0 L1594.0,622.2 L1597.0,624.4 L1600.0,626.6 L1603.0,628.7 L1606.0,631.0 L1609.0,633.2 L1612.0,635.4 L1615.0,637.6 L1618.0,639.8 L1621.0,642.1 L1624.0,644.3 L1627.0,646.5 L1630.0,648.8 L1633.0,651.1 L1636.0,653.3 L1639.0,655.6 L1642.0,657.9 L1645.0,660.2 L1648.0,662.4 L1651.0,664.7 L1654.0,667.0 L1657.0,669.4 L1660.0,671.7 L1663.0,674.0 L1666.0,676.3 L1669.0,678.7 L1672.0,681.0 L1675.0,683.4 L1678.0,685.7 L1681.0,688.1 L1684.0,690.4 L1687.0,692.8 L1690.0,695.2 L1693.0,697.6 L1696.0,700.0 L1699.0,702.4 L1702.0,704.8 L1705.0,707.2 L1708.0,709.7 L1711.0,712.1 L1714.0,714.5 L1717.0,717.0 L1720.0,719.4 L1723.0,721.9 L1726.0,724.4 L1729.0,726.8 L1732.0,729.3 L1735.0,731.8 L1738.0,734.3 L1741.0,736.8 L1744.0,739.3 L1747.0,741.8 L1750.0,744.4 L1753.0,746.9 L1756.0,749.4 L1759.0,752.0 L1762.0,754.5 L1765.0,757.1 L1768.0,759.7 L1771.0,762.3 L1774.0,764.8 L1777.0,767.4 L1780.0,770.0 L1783.0,772.7 L1786.0,775.3 L1789.0,777.9 L1792.0,780.5 L1795.0,783.2 L1798.0,785.8 L1801.0,788.5 L1804.0,791.2 L1807.0,793.8 L1810.0,796.5 L1813.0,799.2 L1816.0,801.9 L1819.0,804.6 L1822.0,807.4 L1825.0,810.1 L1828.0,812.8 L1831.0,815.6 L1834.0,818.4 L1837.0,821.2 L1840.0,823.9 L1843.0,826.7 L1846.0,829.6 L1849.0,832.4 L1852.0,835.2 L1855.0,838.1 L1858.0,840.9 L1861.0,843.8 L1864.0,846.7 L1867.0,849.6 L1870.0,852.5 L1873.0,855.4 L1876.0,858.3 L1879.0,861.3 L1882.0,864.3 L1885.0,867.2 L1888.0,870.2 L1891.0,873.2 L1894.0,876.2 L1897.0,879.3 L1900.0,882.3 L1903.0,885.4 L1906.0,888.5 L1909.0,891.6 L1912.0,894.7 L1915.0,897.8 L1918.0,900.9 L1921.0,904.1 L1924.0,907.2 L1927.0,910.4 L1930.0,913.6 L1933.0,916.8 L1936.0,920.1 L1939.0,923.3 L1942.0,926.6 L1945.0,929.9 L1948.0,933.2 L1951.0,936.5 L1954.0,939.9 L1957.0,943.3 L1960.0,946.7 L1963.0,950.1 L1966.0,953.5 L1969.0,957.0 L1972.0,960.5 L1975.0,964.0 L1978.0,967.5 L1981.0,971.1 L1984.0,974.6 L1987.0,978.2 L1990.0,981.9 L1993.0,985.5 L1996.0,989.2 L1999.0,992.9 L2002.0,996.7 L2005.0,1000.5 L2008.0,1004.3 L2011.0,1008.1 L2014.0,1012.0 L2017.0,1015.9 L2020.0,1019.8 L2023.0,1023.7 L2026.0,1027.7 L2029.0,1031.7 L2032.0,1035.8 L2035.0,1039.9 L2038.0,1044.0 L2041.0,1048.2 L2044.0,1052.3 L2047.0,1056.6 L2050.0,1060.8 L2053.0,1065.1 L2056.0,1069.5 L2059.0,1073.8 L2062.0,1078.3 L2065.0,1082.7 L2068.0,1087.2 L2071.0,1091.7 L2074.0,1096.3 L2077.0,1100.9 L2080.0,1105.5 L2083.0,1110.2 L2086.0,1115.0 L2089.0,1119.7 L2092.0,1124.6 L2095.0,1129.4 L2098.0,1134.3 L2101.0,1139.3 L2104.0,1144.3 L2107.0,1149.3 L2110.0,1154.4 L2113.0,1159.5 L2116.0,1164.7 L2119.0,1169.9 L2122.0,1175.2 L2125.0,1180.5 L2128.0,1185.9 L2131.0,1191.3 L2134.0,1196.8 L2137.0,1202.3 L2140.0,1207.9 L2141.0,1209.7" fill="none" stroke="#000" stroke-width="6" stroke-linejoin="round" stroke-dasharray="15 7"/>
<circle cx="304" cy="157" r="8" fill="#000"/>
<circle cx="520.5" cy="153.7" r="8" fill="#000"/>
<circle cx="791" cy="203" r="8" fill="#000"/>
<circle cx="1062" cy="304" r="8" fill="#000"/>
<circle cx="1333" cy="450" r="8" fill="#000"/>
<circle cx="1602" cy="629" r="8" fill="#000"/>
<circle cx="1871" cy="854" r="8" fill="#000"/>
<circle cx="2141" cy="1212" r="8" fill="#000"/>
<rect x="1056" y="298" width="14" height="14" fill="#000"/>
<rect x="1325" y="411" width="14" height="14" fill="#000"/>
<rect x="1595" y="579" width="14" height="14" fill="#000"/>
<rect x="1862" y="797" width="14" height="14" fill="#000"/>
<rect x="2134" y="1122" width="14" height="14" fill="#000"/>
<rect x="253" y="53" width="1889" height="1248.5" fill="none" stroke="#000" stroke-width="7"/>
<rect x="297" y="884" width="886" height="333" fill="#fff" stroke="#000" stroke-width="6"/>
<line x1="306" y1="949" x2="415" y2="949" stroke="#1c0509" stroke-width="5" />
<rect x="355" y="944" width="12" height="10" fill="#000"/>
<line x1="304" y1="1101" x2="407" y2="1101" stroke="#1c0509" stroke-width="5" />
<rect x="352" y="1097" width="12" height="9" fill="#000"/>
<line x1="306" y1="1180" x2="318" y2="1180" stroke="#000" stroke-width="6" />
<circle cx="358" cy="1181" r="8" fill="#000"/>
<line x1="271" y1="1716" x2="2148" y2="1716" stroke="#000" stroke-width="6" />
<line x1="271" y1="1898" x2="2148" y2="1898" stroke="#000" stroke-width="6" />
<line x1="271" y1="2081" x2="2148" y2="2081" stroke="#000" stroke-width="6" />
<line x1="271" y1="2261" x2="2148" y2="2261" stroke="#000" stroke-width="6" />
<line x1="271" y1="2445" x2="2148" y2="2445" stroke="#000" stroke-width="6" />
<line x1="271" y1="2627" x2="2148" y2="2627" stroke="#000" stroke-width="6" />
<line x1="537" y1="1531" x2="537" y2="2811" stroke="#000" stroke-width="6" />
<line x1="808" y1="1531" x2="808" y2="2811" stroke="#000" stroke-width="6" />
<line x1="1074" y1="1531" x2="1074" y2="2811" stroke="#000" stroke-width="6" />
<line x1="1342" y1="1531" x2="1342" y2="2341" stroke="#000" stroke-width="6" />
<line x1="1342" y1="2353" x2="1342" y2="2400" stroke="#000" stroke-width="6" />
<line x1="1342" y1="2410" x2="1342" y2="2811" stroke="#000" stroke-width="6" />
<line x1="1611" y1="1531" x2="1611" y2="2609" stroke="#000" stroke-width="6" />
<line x1="1611" y1="2622" x2="1611" y2="2811" stroke="#000" stroke-width="6" />
<line x1="1880" y1="1531" x2="1880" y2="2663" stroke="#000" stroke-width="6" />
<line x1="1880" y1="2671" x2="1880" y2="2811" stroke="#000" stroke-width="6" />
<line x1="262" y1="1623.5" x2="270" y2="1623.5" stroke="#000" stroke-width="5" />
<line x1="262" y1="1807.0" x2="270" y2="1807.0" stroke="#000" stroke-width="5" />
<line x1="262" y1="1989.5" x2="270" y2="1989.5" stroke="#000" stroke-width="5" />
<line x1="262" y1="2171.0" x2="270" y2="2171.0" stroke="#000" stroke-width="5" />
<line x1="262" y1="2353.0" x2="270" y2="2353.0" stroke="#000" stroke-width="5" />
<line x1="262" y1="2536.0" x2="270" y2="2536.0" stroke="#000" stroke-width="5" />
<line x1="262" y1="2719.0" x2="270" y2="2719.0" stroke="#000" stroke-width="5" />
<line x1="258" y1="1531" x2="270" y2="1531" stroke="#000" stroke-width="5" />
<line x1="258" y1="1716" x2="270" y2="1716" stroke="#000" stroke-width="5" />
<line x1="258" y1="1898" x2="270" y2="1898" stroke="#000" stroke-width="5" />
<line x1="258" y1="2081" x2="270" y2="2081" stroke="#000" stroke-width="5" />
<line x1="258" y1="2261" x2="270" y2="2261" stroke="#000" stroke-width="5" />
<line x1="258" y1="2445" x2="270" y2="2445" stroke="#000" stroke-width="5" />
<line x1="258" y1="2627" x2="270" y2="2627" stroke="#000" stroke-width="5" />
<line x1="258" y1="2811" x2="270" y2="2811" stroke="#000" stroke-width="5" />
<line x1="324.2" y1="2810" x2="324.2" y2="2819" stroke="#000" stroke-width="4" />
<line x1="377.4" y1="2810" x2="377.4" y2="2819" stroke="#000" stroke-width="4" />
<line x1="430.6" y1="2810" x2="430.6" y2="2819" stroke="#000" stroke-width="4" />
<line x1="483.8" y1="2810" x2="483.8" y2="2819" stroke="#000" stroke-width="4" />
<line x1="591.2" y1="2810" x2="591.2" y2="2819" stroke="#000" stroke-width="4" />
<line x1="645.4" y1="2810" x2="645.4" y2="2819" stroke="#000" stroke-width="4" />
<line x1="699.6" y1="2810" x2="699.6" y2="2819" stroke="#000" stroke-width="4" />
<line x1="753.8" y1="2810" x2="753.8" y2="2819" stroke="#000" stroke-width="4" />
<line x1="861.2" y1="2810" x2="861.2" y2="2819" stroke="#000" stroke-width="4" />
<line x1="914.4" y1="2810" x2="914.4" y2="2819" stroke="#000" stroke-width="4" />
<line x1="967.6" y1="2810" x2="967.6" y2="2819" stroke="#000" stroke-width="4" />
<line x1="1020.8" y1="2810" x2="1020.8" y2="2819" stroke="#000" stroke-width="4" />
<line x1="1127.6" y1="2810" x2="1127.6" y2="2819" stroke="#000" stroke-width="4" />
<line x1="1181.2" y1="2810" x2="1181.2" y2="2819" stroke="#000" stroke-width="4" />
<line x1="1234.8" y1="2810" x2="1234.8" y2="2819" stroke="#000" stroke-width="4" />
<line x1="1288.4" y1="2810" x2="1288.4" y2="2819" stroke="#000" stroke-width="4" />
<line x1="1395.8" y1="2810" x2="1395.8" y2="2819" stroke="#000" stroke-width="4" />
<line x1="1449.6" y1="2810" x2="1449.6" y2="2819" stroke="#000" stroke-width="4" />
<line x1="1503.4" y1="2810" x2="1503.4" y2="2819" stroke="#000" stroke-width="4" />
<line x1="1557.2" y1="2810" x2="1557.2" y2="2819" stroke="#000" stroke-width="4" />
<line x1="1664.8" y1="2810" x2="1664.8" y2="2819" stroke="#000" stroke-width="4" />
<line x1="1718.6" y1="2810" x2="1718.6" y2="2819" stroke="#000" stroke-width="4" />
<line x1="1772.4" y1="2810" x2="1772.4" y2="2819" stroke="#000" stroke-width="4" />
<line x1="1826.2" y1="2810" x2="1826.2" y2="2819" stroke="#000" stroke-width="4" />
<line x1="1933.6" y1="2810" x2="1933.6" y2="2819" stroke="#000" stroke-width="4" />
<line x1="1987.2" y1="2810" x2="1987.2" y2="2819" stroke="#000" stroke-width="4" />
<line x1="2040.8" y1="2810" x2="2040.8" y2="2819" stroke="#000" stroke-width="4" />
<line x1="2094.4" y1="2810" x2="2094.4" y2="2819" stroke="#000" stroke-width="4" />
<line x1="271" y1="2810" x2="271" y2="2821" stroke="#000" stroke-width="5" />
<line x1="537" y1="2810" x2="537" y2="2821" stroke="#000" stroke-width="5" />
<line x1="808" y1="2810" x2="808" y2="2821" stroke="#000" stroke-width="5" />
<line x1="1074" y1="2810" x2="1074" y2="2821" stroke="#000" stroke-width="5" />
<line x1="1342" y1="2810" x2="1342" y2="2821" stroke="#000" stroke-width="5" />
<line x1="1611" y1="2810" x2="1611" y2="2821" stroke="#000" stroke-width="5" />
<line x1="1880" y1="2810" x2="1880" y2="2821" stroke="#000" stroke-width="5" />
<line x1="2148" y1="2810" x2="2148" y2="2821" stroke="#000" stroke-width="5" />
<path d="M338.0,2391.4 L341.0,2367.4 L344.0,2346.8 L347.0,2329.4 L350.0,2314.5 L353.0,2301.7 L356.0,2290.6 L359.0,2280.7 L362.0,2271.5 L365.0,2262.6 L368.0,2253.6 L371.0,2244.1 L374.0,2234.3 L377.0,2224.1 L380.0,2213.7 L383.0,2203.1 L386.0,2192.4 L389.0,2181.6 L392.0,2170.9 L395.0,2160.2 L398.0,2149.6 L401.0,2139.3 L404.0,2129.2 L407.0,2119.4 L410.0,2109.9 L413.0,2100.9 L416.0,2092.4 L419.0,2084.3 L422.0,2076.9 L425.0,2070.0 L428.0,2063.6 L431.0,2057.6 L434.0,2051.9 L437.0,2046.4 L440.0,2040.9 L443.0,2035.5 L446.0,2030.0 L449.0,2024.4 L452.0,2018.7 L455.0,2013.0 L458.0,2007.2 L461.0,2001.3 L464.0,1995.4 L467.0,1989.5 L470.0,1983.5 L473.0,1977.4 L476.0,1971.3 L479.0,1965.2 L482.0,1959.1 L485.0,1952.9 L488.0,1946.7 L491.0,1940.6 L494.0,1934.4 L497.0,1928.2 L500.0,1922.1 L503.0,1916.0 L506.0,1909.9 L509.0,1903.9 L512.0,1898.1 L515.0,1892.3 L518.0,1886.6 L521.0,1881.0 L524.0,1875.6 L527.0,1870.4 L530.0,1865.3 L533.0,1860.4 L536.0,1855.8 L539.0,1851.3 L542.0,1847.1 L545.0,1843.1 L548.0,1839.3 L551.0,1835.6 L554.0,1832.2 L557.0,1828.9 L560.0,1825.7 L563.0,1822.8 L566.0,1819.9 L569.0,1817.1 L572.0,1814.5 L575.0,1812.0 L578.0,1809.6 L581.0,1807.3 L584.0,1805.1 L587.0,1803.0 L590.0,1801.0 L593.0,1799.1 L596.0,1797.3 L599.0,1795.6 L602.0,1794.0 L605.0,1792.5 L608.0,1791.1 L611.0,1789.8 L614.0,1788.6 L617.0,1787.5 L620.0,1786.5 L623.0,1785.7 L626.0,1784.9 L629.0,1784.2 L632.0,1783.6 L635.0,1783.0 L638.0,1782.6 L641.0,1782.3 L644.0,1782.1 L647.0,1781.9 L650.0,1781.9 L653.0,1781.9 L656.0,1782.0 L659.0,1782.3 L662.0,1782.5 L665.0,1782.9 L668.0,1783.3 L671.0,1783.9 L674.0,1784.4 L677.0,1785.1 L680.0,1785.8 L683.0,1786.7 L686.0,1787.5 L689.0,1788.5 L692.0,1789.5 L695.0,1790.5 L698.0,1791.6 L701.0,1792.8 L704.0,1794.1 L707.0,1795.4 L710.0,1796.7 L713.0,1798.1 L716.0,1799.5 L719.0,1801.0 L722.0,1802.6 L725.0,1804.2 L728.0,1805.8 L731.0,1807.5 L734.0,1809.2 L737.0,1810.9 L740.0,1812.7 L743.0,1814.5 L746.0,1816.4 L749.0,1818.3 L752.0,1820.2 L755.0,1822.1 L758.0,1824.1 L761.0,1826.0 L764.0,1828.0 L767.0,1830.1 L770.0,1832.1 L773.0,1834.2 L776.0,1836.3 L779.0,1838.3 L782.0,1840.4 L785.0,1842.5 L788.0,1844.7 L791.0,1846.8 L794.0,1848.9 L797.0,1851.0 L800.0,1853.2 L803.0,1855.3 L806.0,1857.4 L809.0,1859.6 L812.0,1861.7 L815.0,1863.9 L818.0,1866.0 L821.0,1868.1 L824.0,1870.3 L827.0,1872.4 L830.0,1874.6 L833.0,1876.8 L836.0,1878.9 L839.0,1881.1 L842.0,1883.3 L845.0,1885.5 L848.0,1887.7 L851.0,1889.9 L854.0,1892.1 L857.0,1894.3 L860.0,1896.5 L863.0,1898.8 L866.0,1901.0 L869.0,1903.3 L872.0,1905.6 L875.0,1907.9 L878.0,1910.2 L881.0,1912.5 L884.0,1914.8 L887.0,1917.1 L890.0,1919.5 L893.0,1921.8 L896.0,1924.2 L899.0,1926.6 L902.0,1929.0 L905.0,1931.4 L908.0,1933.9 L911.0,1936.3 L914.0,1938.8 L917.0,1941.3 L920.0,1943.8 L923.0,1946.4 L926.0,1948.9 L929.0,1951.5 L932.0,1954.1 L935.0,1956.7 L938.0,1959.3 L941.0,1962.0 L944.0,1964.7 L947.0,1967.4 L950.0,1970.1 L953.0,1972.8 L956.0,1975.6 L959.0,1978.4 L962.0,1981.2 L965.0,1984.1 L968.0,1987.0 L971.0,1989.9 L974.0,1992.8 L977.0,1995.7 L980.0,1998.7 L983.0,2001.7 L986.0,2004.7 L989.0,2007.7 L992.0,2010.8 L995.0,2013.9 L998.0,2017.0 L1001.0,2020.1 L1004.0,2023.2 L1007.0,2026.4 L1010.0,2029.6 L1013.0,2032.8 L1016.0,2036.0 L1019.0,2039.2 L1022.0,2042.5 L1025.0,2045.7 L1028.0,2049.0 L1031.0,2052.3 L1034.0,2055.6 L1037.0,2058.9 L1040.0,2062.3 L1043.0,2065.6 L1046.0,2069.0 L1049.0,2072.4 L1052.0,2075.8 L1055.0,2079.2 L1058.0,2082.6 L1061.0,2086.1 L1064.0,2089.5 L1067.0,2092.9 L1070.0,2096.4 L1073.0,2099.9 L1076.0,2103.4 L1079.0,2106.8 L1082.0,2110.3 L1085.0,2113.9 L1088.0,2117.4 L1091.0,2120.9 L1094.0,2124.4 L1097.0,2127.9 L1100.0,2131.5 L1103.0,2135.0 L1106.0,2138.6 L1109.0,2142.1 L1112.0,2145.7 L1115.0,2149.2 L1118.0,2152.8 L1121.0,2156.4 L1124.0,2159.9 L1127.0,2163.5 L1130.0,2167.1 L1133.0,2170.6 L1136.0,2174.2 L1139.0,2177.8 L1142.0,2181.4 L1145.0,2184.9 L1148.0,2188.5 L1151.0,2192.1 L1154.0,2195.6 L1157.0,2199.2 L1160.0,2202.7 L1163.0,2206.3 L1166.0,2209.8 L1169.0,2213.4 L1172.0,2216.9 L1175.0,2220.5 L1178.0,2224.0 L1181.0,2227.5 L1184.0,2231.0 L1187.0,2234.5 L1190.0,2238.0 L1193.0,2241.5 L1196.0,2245.0 L1199.0,2248.5 L1202.0,2251.9 L1205.0,2255.4 L1208.0,2258.8 L1211.0,2262.3 L1214.0,2265.7 L1217.0,2269.1 L1220.0,2272.5 L1223.0,2275.9 L1226.0,2279.3 L1229.0,2282.7 L1232.0,2286.1 L1235.0,2289.5 L1238.0,2292.9 L1241.0,2296.3 L1244.0,2299.7 L1247.0,2303.1 L1250.0,2306.5 L1253.0,2310.0 L1256.0,2313.4 L1259.0,2316.9 L1262.0,2320.4 L1265.0,2323.8 L1268.0,2327.4 L1271.0,2330.9 L1274.0,2334.4 L1277.0,2338.0 L1280.0,2341.6 L1283.0,2345.2 L1286.0,2348.9 L1289.0,2352.5 L1292.0,2356.2 L1295.0,2359.9 L1298.0,2363.6 L1301.0,2367.4 L1304.0,2371.1 L1307.0,2374.9 L1310.0,2378.7 L1313.0,2382.5 L1316.0,2386.3 L1319.0,2390.1 L1322.0,2394.0 L1325.0,2397.8 L1328.0,2401.7 L1331.0,2405.6 L1334.0,2409.4 L1337.0,2413.3 L1340.0,2417.2 L1343.0,2421.1 L1346.0,2425.0 L1349.0,2428.9 L1352.0,2432.8 L1355.0,2436.7 L1358.0,2440.6 L1361.0,2444.5 L1364.0,2448.4 L1367.0,2452.3 L1370.0,2456.2 L1373.0,2460.1 L1376.0,2464.0 L1379.0,2467.9 L1382.0,2471.7 L1385.0,2475.6 L1388.0,2479.4 L1391.0,2483.3 L1394.0,2487.1 L1397.0,2490.9 L1400.0,2494.7 L1403.0,2498.5 L1406.0,2502.3 L1409.0,2506.0 L1412.0,2509.8 L1415.0,2513.5 L1418.0,2517.2 L1421.0,2520.9 L1424.0,2524.6 L1427.0,2528.2 L1430.0,2531.8 L1433.0,2535.4 L1436.0,2539.0 L1439.0,2542.5 L1442.0,2546.1 L1445.0,2549.6 L1448.0,2553.0 L1451.0,2556.5 L1454.0,2559.9 L1457.0,2563.3 L1460.0,2566.6 L1463.0,2570.0 L1466.0,2573.3 L1469.0,2576.6 L1472.0,2579.9 L1475.0,2583.2 L1478.0,2586.4 L1481.0,2589.7 L1484.0,2592.9 L1487.0,2596.1 L1490.0,2599.3 L1493.0,2602.6 L1496.0,2605.8 L1499.0,2609.0 L1502.0,2612.2 L1505.0,2615.4 L1508.0,2618.6 L1511.0,2621.8 L1514.0,2625.0 L1517.0,2628.2 L1520.0,2631.4 L1523.0,2634.6 L1526.0,2637.7 L1529.0,2640.9 L1532.0,2644.1 L1535.0,2647.2 L1538.0,2650.3 L1541.0,2653.4 L1544.0,2656.4 L1547.0,2659.5 L1550.0,2662.5 L1553.0,2665.4 L1556.0,2668.3 L1559.0,2671.2 L1562.0,2674.0 L1565.0,2676.7 L1568.0,2679.4 L1571.0,2682.1 L1574.0,2684.7 L1577.0,2687.2 L1580.0,2689.6 L1583.0,2692.0 L1586.0,2694.3 L1589.0,2696.5 L1592.0,2698.7 L1595.0,2700.7 L1598.0,2702.7 L1601.0,2704.6 L1604.0,2706.4 L1607.0,2708.0 L1610.0,2709.6 L1613.0,2711.1 L1616.0,2712.5 L1619.0,2713.8 L1622.0,2715.0 L1625.0,2716.1 L1628.0,2717.2 L1631.0,2718.2 L1634.0,2719.1 L1637.0,2720.0 L1640.0,2720.9 L1643.0,2721.7 L1646.0,2722.5 L1649.0,2723.3 L1652.0,2724.1 L1655.0,2724.8 L1658.0,2725.5 L1661.0,2726.2 L1664.0,2726.8 L1667.0,2727.4 L1670.0,2728.0 L1673.0,2728.6 L1676.0,2729.2 L1679.0,2729.7 L1682.0,2730.3 L1685.0,2730.8 L1688.0,2731.2 L1691.0,2731.7 L1694.0,2732.1 L1697.0,2732.5 L1700.0,2732.9 L1703.0,2733.3 L1706.0,2733.7 L1709.0,2734.0 L1712.0,2734.3 L1715.0,2734.7 L1718.0,2734.9 L1721.0,2735.2 L1724.0,2735.5 L1727.0,2735.7 L1730.0,2735.9 L1733.0,2736.2 L1736.0,2736.3 L1739.0,2736.5 L1742.0,2736.7 L1745.0,2736.8 L1748.0,2737.0 L1751.0,2737.1 L1754.0,2737.2 L1757.0,2737.3 L1760.0,2737.4 L1763.0,2737.5 L1766.0,2737.6 L1769.0,2737.6 L1772.0,2737.7 L1775.0,2737.7 L1778.0,2737.7 L1781.0,2737.7 L1784.0,2737.7 L1787.0,2737.7 L1790.0,2737.7 L1793.0,2737.7 L1796.0,2737.7 L1799.0,2737.6 L1802.0,2737.6 L1805.0,2737.5 L1808.0,2737.4 L1811.0,2737.4 L1814.0,2737.3 L1817.0,2737.2 L1820.0,2737.1 L1823.0,2737.0 L1826.0,2736.9 L1829.0,2736.7 L1832.0,2736.6 L1835.0,2736.5 L1838.0,2736.3 L1841.0,2736.2 L1844.0,2736.0 L1847.0,2735.9 L1850.0,2735.7 L1853.0,2735.5 L1856.0,2735.4 L1859.0,2735.2 L1862.0,2735.0 L1865.0,2734.8 L1868.0,2734.6 L1871.0,2734.4 L1874.0,2734.2 L1877.0,2734.0 L1880.0,2733.8 L1883.0,2733.6 L1886.0,2733.3 L1889.0,2733.1 L1892.0,2732.9 L1895.0,2732.6 L1898.0,2732.4 L1901.0,2732.2 L1904.0,2731.9 L1907.0,2731.7 L1910.0,2731.4 L1913.0,2731.2 L1916.0,2730.9 L1919.0,2730.7 L1922.0,2730.4 L1925.0,2730.2 L1928.0,2729.9 L1931.0,2729.7 L1934.0,2729.4 L1937.0,2729.1 L1940.0,2728.9 L1943.0,2728.6 L1946.0,2728.4 L1949.0,2728.1 L1952.0,2727.8 L1955.0,2727.6 L1958.0,2727.3 L1961.0,2727.1 L1964.0,2726.8 L1967.0,2726.5 L1970.0,2726.3 L1973.0,2726.0 L1976.0,2725.8 L1979.0,2725.5 L1982.0,2725.3 L1985.0,2725.0 L1988.0,2724.8 L1991.0,2724.5 L1994.0,2724.3 L1997.0,2724.1 L2000.0,2723.8 L2003.0,2723.6 L2006.0,2723.4 L2009.0,2723.1 L2012.0,2722.9 L2015.0,2722.6 L2018.0,2722.4 L2021.0,2722.2 L2024.0,2721.9 L2027.0,2721.7 L2030.0,2721.4 L2033.0,2721.1 L2036.0,2720.9 L2039.0,2720.6 L2042.0,2720.3 L2045.0,2720.0 L2048.0,2719.8 L2051.0,2719.5 L2054.0,2719.2 L2057.0,2718.8 L2060.0,2718.5 L2063.0,2718.2 L2066.0,2717.8 L2069.0,2717.5 L2072.0,2717.1 L2075.0,2716.7 L2078.0,2716.3 L2081.0,2715.9 L2084.0,2715.5 L2087.0,2715.1 L2090.0,2714.6 L2093.0,2714.2 L2096.0,2713.7 L2099.0,2713.2 L2102.0,2712.7 L2105.0,2712.2 L2108.0,2711.6 L2111.0,2711.0 L2114.0,2710.5 L2117.0,2709.9 L2120.0,2709.2 L2123.0,2708.6 L2126.0,2707.9 L2129.0,2707.2 L2132.0,2706.5 L2135.0,2705.8 L2138.0,2705.1 L2141.0,2704.3 L2143.0,2703.7" fill="none" stroke="#1c0509" stroke-width="6" stroke-linejoin="round"/>
<path d="M338.0,2391.5 L341.0,2367.1 L344.0,2346.4 L347.0,2329.0 L350.0,2314.3 L353.0,2301.9 L356.0,2291.1 L359.0,2281.6 L362.0,2272.7 L365.0,2263.9 L368.0,2254.8 L371.0,2245.1 L374.0,2234.8 L377.0,2224.1 L380.0,2213.1 L383.0,2202.0 L386.0,2190.8 L389.0,2179.7 L392.0,2168.8 L395.0,2158.2 L398.0,2148.1 L401.0,2138.3 L404.0,2128.9 L407.0,2119.9 L410.0,2111.3 L413.0,2103.0 L416.0,2094.9 L419.0,2087.2 L422.0,2079.7 L425.0,2072.5 L428.0,2065.6 L431.0,2058.8 L434.0,2052.3 L437.0,2045.9 L440.0,2039.7 L443.0,2033.7 L446.0,2027.8 L449.0,2022.0 L452.0,2016.3 L455.0,2010.7 L458.0,2005.1 L461.0,1999.6 L464.0,1994.0 L467.0,1988.5 L470.0,1983.0 L473.0,1977.5 L476.0,1971.9 L479.0,1966.2 L482.0,1960.5 L485.0,1954.6 L488.0,1948.6 L491.0,1942.5 L494.0,1936.3 L497.0,1929.9 L500.0,1923.3 L503.0,1916.8 L506.0,1910.2 L509.0,1903.7 L512.0,1897.3 L515.0,1891.0 L518.0,1885.0 L521.0,1879.1 L524.0,1873.6 L527.0,1868.4 L530.0,1863.6 L533.0,1859.3 L536.0,1855.4 L539.0,1852.1 L542.0,1849.2 L545.0,1846.7 L548.0,1844.3 L551.0,1841.9 L554.0,1839.5 L557.0,1836.9 L560.0,1834.3 L563.0,1831.7 L566.0,1829.0 L569.0,1826.5 L572.0,1824.0 L575.0,1821.6 L578.0,1819.4 L581.0,1817.3 L584.0,1815.3 L587.0,1813.4 L590.0,1811.7 L593.0,1810.0 L596.0,1808.5 L599.0,1807.0 L602.0,1805.7 L605.0,1804.5 L608.0,1803.4 L611.0,1802.4 L614.0,1801.5 L617.0,1800.7 L620.0,1800.0 L623.0,1799.4 L626.0,1798.8 L629.0,1798.4 L632.0,1798.1 L635.0,1797.9 L638.0,1797.7 L641.0,1797.7 L644.0,1797.7 L647.0,1797.9 L650.0,1798.1 L653.0,1798.4 L656.0,1798.7 L659.0,1799.2 L662.0,1799.7 L665.0,1800.3 L668.0,1800.9 L671.0,1801.6 L674.0,1802.4 L677.0,1803.3 L680.0,1804.2 L683.0,1805.2 L686.0,1806.2 L689.0,1807.3 L692.0,1808.4 L695.0,1809.6 L698.0,1810.8 L701.0,1812.1 L704.0,1813.4 L707.0,1814.8 L710.0,1816.2 L713.0,1817.6 L716.0,1819.1 L719.0,1820.6 L722.0,1822.1 L725.0,1823.7 L728.0,1825.3 L731.0,1826.9 L734.0,1828.5 L737.0,1830.2 L740.0,1831.8 L743.0,1833.5 L746.0,1835.2 L749.0,1836.9 L752.0,1838.6 L755.0,1840.3 L758.0,1842.0 L761.0,1843.8 L764.0,1845.5 L767.0,1847.2 L770.0,1848.9 L773.0,1850.6 L776.0,1852.3 L779.0,1854.0 L782.0,1855.7 L785.0,1857.3 L788.0,1859.0 L791.0,1860.6 L794.0,1862.2 L797.0,1863.7 L800.0,1865.3 L803.0,1866.9 L806.0,1868.4 L809.0,1869.9 L812.0,1871.5 L815.0,1873.0 L818.0,1874.5 L821.0,1876.1 L824.0,1877.6 L827.0,1879.2 L830.0,1880.8 L833.0,1882.4 L836.0,1884.0 L839.0,1885.6 L842.0,1887.3 L845.0,1889.0 L848.0,1890.8 L851.0,1892.5 L854.0,1894.4 L857.0,1896.2 L860.0,1898.1 L863.0,1900.1 L866.0,1902.0 L869.0,1904.1 L872.0,1906.1 L875.0,1908.2 L878.0,1910.4 L881.0,1912.5 L884.0,1914.7 L887.0,1917.0 L890.0,1919.3 L893.0,1921.6 L896.0,1924.0 L899.0,1926.3 L902.0,1928.8 L905.0,1931.2 L908.0,1933.7 L911.0,1936.2 L914.0,1938.8 L917.0,1941.4 L920.0,1944.0 L923.0,1946.6 L926.0,1949.3 L929.0,1952.0 L932.0,1954.7 L935.0,1957.5 L938.0,1960.3 L941.0,1963.1 L944.0,1965.9 L947.0,1968.8 L950.0,1971.7 L953.0,1974.6 L956.0,1977.5 L959.0,1980.4 L962.0,1983.4 L965.0,1986.4 L968.0,1989.4 L971.0,1992.5 L974.0,1995.5 L977.0,1998.6 L980.0,2001.7 L983.0,2004.8 L986.0,2008.0 L989.0,2011.1 L992.0,2014.3 L995.0,2017.5 L998.0,2020.7 L1001.0,2023.9 L1004.0,2027.1 L1007.0,2030.4 L1010.0,2033.6 L1013.0,2036.9 L1016.0,2040.2 L1019.0,2043.5 L1022.0,2046.8 L1025.0,2050.1 L1028.0,2053.4 L1031.0,2056.7 L1034.0,2060.1 L1037.0,2063.4 L1040.0,2066.8 L1043.0,2070.2 L1046.0,2073.5 L1049.0,2076.9 L1052.0,2080.3 L1055.0,2083.7 L1058.0,2087.1 L1061.0,2090.5 L1064.0,2093.9 L1067.0,2097.3 L1070.0,2100.7 L1073.0,2104.1 L1076.0,2107.5 L1079.0,2110.9 L1082.0,2114.3 L1085.0,2117.7 L1088.0,2121.1 L1091.0,2124.5 L1094.0,2127.9 L1097.0,2131.3 L1100.0,2134.7 L1103.0,2138.2 L1106.0,2141.6 L1109.0,2145.0 L1112.0,2148.4 L1115.0,2151.9 L1118.0,2155.3 L1121.0,2158.7 L1124.0,2162.1 L1127.0,2165.6 L1130.0,2169.0 L1133.0,2172.5 L1136.0,2175.9 L1139.0,2179.4 L1142.0,2182.8 L1145.0,2186.3 L1148.0,2189.7 L1151.0,2193.2 L1154.0,2196.7 L1157.0,2200.1 L1160.0,2203.6 L1163.0,2207.1 L1166.0,2210.6 L1169.0,2214.0 L1172.0,2217.5 L1175.0,2221.0 L1178.0,2224.5 L1181.0,2228.0 L1184.0,2231.5 L1187.0,2235.1 L1190.0,2238.6 L1193.0,2242.1 L1196.0,2245.6 L1199.0,2249.2 L1202.0,2252.7 L1205.0,2256.3 L1208.0,2259.8 L1211.0,2263.4 L1214.0,2266.9 L1217.0,2270.5 L1220.0,2274.1 L1223.0,2277.6 L1226.0,2281.2 L1229.0,2284.8 L1232.0,2288.4 L1235.0,2292.0 L1238.0,2295.6 L1241.0,2299.2 L1244.0,2302.9 L1247.0,2306.5 L1250.0,2310.1 L1253.0,2313.7 L1256.0,2317.4 L1259.0,2321.0 L1262.0,2324.7 L1265.0,2328.3 L1268.0,2332.0 L1271.0,2335.6 L1274.0,2339.3 L1277.0,2343.0 L1280.0,2346.7 L1283.0,2350.4 L1286.0,2354.0 L1289.0,2357.7 L1292.0,2361.4 L1295.0,2365.1 L1298.0,2368.8 L1301.0,2372.6 L1304.0,2376.3 L1307.0,2380.0 L1310.0,2383.7 L1313.0,2387.5 L1316.0,2391.2 L1319.0,2394.9 L1322.0,2398.7 L1325.0,2402.4 L1328.0,2406.2 L1331.0,2409.9 L1334.0,2413.7 L1337.0,2417.5 L1340.0,2421.2 L1343.0,2425.0 L1346.0,2428.8 L1349.0,2432.6 L1352.0,2436.4 L1355.0,2440.2 L1358.0,2443.9 L1361.0,2447.7 L1364.0,2451.5 L1367.0,2455.3 L1370.0,2459.1 L1373.0,2462.9 L1376.0,2466.7 L1379.0,2470.5 L1382.0,2474.2 L1385.0,2478.0 L1388.0,2481.8 L1391.0,2485.6 L1394.0,2489.3 L1397.0,2493.1 L1400.0,2496.9 L1403.0,2500.6 L1406.0,2504.3 L1409.0,2508.1 L1412.0,2511.8 L1415.0,2515.5 L1418.0,2519.2 L1421.0,2522.9 L1424.0,2526.6 L1427.0,2530.3 L1430.0,2534.0 L1433.0,2537.6 L1436.0,2541.3 L1439.0,2544.9 L1442.0,2548.5 L1445.0,2552.1 L1448.0,2555.7 L1451.0,2559.3 L1454.0,2562.9 L1457.0,2566.4 L1460.0,2569.9 L1463.0,2573.5 L1466.0,2576.9 L1469.0,2580.4 L1472.0,2583.9 L1475.0,2587.3 L1478.0,2590.7 L1481.0,2594.1 L1484.0,2597.5 L1487.0,2600.9 L1490.0,2604.2 L1493.0,2607.5 L1496.0,2610.8 L1499.0,2614.1 L1502.0,2617.3 L1505.0,2620.6 L1508.0,2623.8 L1511.0,2626.9 L1514.0,2630.1 L1517.0,2633.2 L1520.0,2636.3 L1523.0,2639.3 L1526.0,2642.4 L1529.0,2645.4 L1532.0,2648.4 L1535.0,2651.3 L1538.0,2654.2 L1541.0,2657.1 L1544.0,2660.0 L1547.0,2662.8 L1550.0,2665.6 L1553.0,2668.4 L1556.0,2671.1 L1559.0,2673.8 L1562.0,2676.4 L1565.0,2679.1 L1568.0,2681.7 L1571.0,2684.2 L1574.0,2686.7 L1577.0,2689.2 L1580.0,2691.7 L1583.0,2694.1 L1586.0,2696.4 L1589.0,2698.8 L1592.0,2701.1 L1595.0,2703.3 L1598.0,2705.5 L1601.0,2707.7 L1604.0,2709.8 L1607.0,2711.9 L1610.0,2713.9 L1613.0,2715.9 L1616.0,2717.9 L1619.0,2719.8 L1622.0,2721.7 L1625.0,2723.5 L1628.0,2725.3 L1631.0,2727.0 L1634.0,2728.7 L1637.0,2730.4 L1640.0,2732.0 L1643.0,2733.6 L1646.0,2735.2 L1649.0,2736.7 L1652.0,2738.1 L1655.0,2739.6 L1658.0,2741.0 L1661.0,2742.3 L1664.0,2743.7 L1667.0,2745.0 L1670.0,2746.2 L1673.0,2747.4 L1676.0,2748.6 L1679.0,2749.8 L1682.0,2750.9 L1685.0,2752.0 L1688.0,2753.0 L1691.0,2754.0 L1694.0,2755.0 L1697.0,2756.0 L1700.0,2756.9 L1703.0,2757.8 L1706.0,2758.6 L1709.0,2759.5 L1712.0,2760.3 L1715.0,2761.0 L1718.0,2761.8 L1721.0,2762.5 L1724.0,2763.2 L1727.0,2763.8 L1730.0,2764.5 L1733.0,2765.1 L1736.0,2765.6 L1739.0,2766.2 L1742.0,2766.7 L1745.0,2767.2 L1748.0,2767.7 L1751.0,2768.1 L1754.0,2768.6 L1757.0,2768.9 L1760.0,2769.3 L1763.0,2769.7 L1766.0,2770.0 L1769.0,2770.3 L1772.0,2770.6 L1775.0,2770.8 L1778.0,2771.1 L1781.0,2771.3 L1784.0,2771.5 L1787.0,2771.7 L1790.0,2771.8 L1793.0,2771.9 L1796.0,2772.0 L1799.0,2772.1 L1802.0,2772.2 L1805.0,2772.2 L1808.0,2772.3 L1811.0,2772.3 L1814.0,2772.3 L1817.0,2772.2 L1820.0,2772.2 L1823.0,2772.1 L1826.0,2772.0 L1829.0,2771.9 L1832.0,2771.8 L1835.0,2771.7 L1838.0,2771.5 L1841.0,2771.3 L1844.0,2771.1 L1847.0,2770.9 L1850.0,2770.7 L1853.0,2770.5 L1856.0,2770.2 L1859.0,2769.9 L1862.0,2769.6 L1865.0,2769.3 L1868.0,2769.0 L1871.0,2768.7 L1874.0,2768.3 L1877.0,2768.0 L1880.0,2767.6 L1883.0,2767.2 L1886.0,2766.8 L1889.0,2766.4 L1892.0,2766.0 L1895.0,2765.5 L1898.0,2765.1 L1901.0,2764.6 L1904.0,2764.2 L1907.0,2763.7 L1910.0,2763.2 L1913.0,2762.7 L1916.0,2762.2 L1919.0,2761.6 L1922.0,2761.1 L1925.0,2760.6 L1928.0,2760.0 L1931.0,2759.4 L1934.0,2758.9 L1937.0,2758.3 L1940.0,2757.7 L1943.0,2757.1 L1946.0,2756.5 L1949.0,2755.9 L1952.0,2755.2 L1955.0,2754.6 L1958.0,2754.0 L1961.0,2753.3 L1964.0,2752.7 L1967.0,2752.0 L1970.0,2751.3 L1973.0,2750.6 L1976.0,2750.0 L1979.0,2749.3 L1982.0,2748.5 L1985.0,2747.8 L1988.0,2747.1 L1991.0,2746.4 L1994.0,2745.6 L1997.0,2744.9 L2000.0,2744.1 L2003.0,2743.4 L2006.0,2742.6 L2009.0,2741.8 L2012.0,2741.1 L2015.0,2740.3 L2018.0,2739.5 L2021.0,2738.7 L2024.0,2737.8 L2027.0,2737.0 L2030.0,2736.2 L2033.0,2735.4 L2036.0,2734.5 L2039.0,2733.7 L2042.0,2732.8 L2045.0,2731.9 L2048.0,2731.1 L2051.0,2730.2 L2054.0,2729.3 L2057.0,2728.4 L2060.0,2727.5 L2063.0,2726.6 L2066.0,2725.7 L2069.0,2724.8 L2072.0,2723.8 L2075.0,2722.9 L2078.0,2722.0 L2081.0,2721.0 L2084.0,2720.1 L2087.0,2719.1 L2090.0,2718.1 L2093.0,2717.2 L2096.0,2716.2 L2099.0,2715.2 L2102.0,2714.2 L2105.0,2713.2 L2108.0,2712.2 L2111.0,2711.2 L2114.0,2710.2 L2117.0,2709.1 L2120.0,2708.1 L2123.0,2707.1 L2126.0,2706.0 L2129.0,2705.0 L2132.0,2703.9 L2135.0,2702.8 L2138.0,2701.8 L2141.0,2700.7 L2143.0,2700.0" fill="none" stroke="#1c0509" stroke-width="6" stroke-linejoin="round"/>
<path d="M328.0,2374.8 L331.0,2366.7 L334.0,2358.5 L337.0,2350.0 L340.0,2341.3 L343.0,2332.5 L346.0,2323.5 L349.0,2314.3 L352.0,2305.0 L355.0,2295.6 L358.0,2286.0 L361.0,2276.3 L364.0,2266.5 L367.0,2256.6 L370.0,2246.6 L373.0,2236.5 L376.0,2226.4 L379.0,2216.2 L382.0,2205.9 L385.0,2195.6 L388.0,2185.2 L391.0,2174.9 L394.0,2164.5 L397.0,2154.1 L400.0,2143.7 L403.0,2133.4 L406.0,2123.0 L409.0,2112.8 L412.0,2102.6 L415.0,2092.5 L418.0,2082.5 L421.0,2072.6 L424.0,2062.8 L427.0,2053.2 L430.0,2043.8 L433.0,2034.5 L436.0,2025.4 L439.0,2016.6 L442.0,2007.9 L445.0,1999.5 L448.0,1991.4 L451.0,1983.5 L454.0,1976.0 L457.0,1968.7 L460.0,1961.7 L463.0,1955.0 L466.0,1948.5 L469.0,1942.0 L472.0,1935.5 L475.0,1928.9 L478.0,1922.1 L481.0,1915.0 L484.0,1907.8 L487.0,1900.6 L490.0,1893.6 L493.0,1887.0 L496.0,1881.0 L499.0,1875.6 L502.0,1870.6 L505.0,1865.9 L508.0,1861.2 L511.0,1856.3 L514.0,1850.9 L517.0,1844.9 L520.0,1838.2 L523.0,1831.1 L526.0,1823.8 L529.0,1816.5 L532.0,1809.3 L535.0,1802.6 L538.0,1796.4 L541.0,1791.1 L544.0,1786.6 L547.0,1783.0 L550.0,1780.0 L553.0,1777.7 L556.0,1775.9 L559.0,1774.4 L562.0,1773.3 L565.0,1772.4 L568.0,1771.6 L571.0,1770.9 L574.0,1770.0 L577.0,1769.2 L580.0,1768.3 L583.0,1767.3 L586.0,1766.4 L589.0,1765.4 L592.0,1764.5 L595.0,1763.5 L598.0,1762.6 L601.0,1761.7 L604.0,1760.8 L607.0,1760.0 L610.0,1759.3 L613.0,1758.6 L616.0,1757.9 L619.0,1757.4 L622.0,1757.0 L625.0,1756.7 L628.0,1756.4 L631.0,1756.3 L634.0,1756.4 L637.0,1756.5 L640.0,1756.8 L643.0,1757.2 L646.0,1757.7 L649.0,1758.3 L652.0,1759.0 L655.0,1759.8 L658.0,1760.7 L661.0,1761.6 L664.0,1762.7 L667.0,1763.9 L670.0,1765.1 L673.0,1766.4 L676.0,1767.8 L679.0,1769.3 L682.0,1770.8 L685.0,1772.3 L688.0,1774.0 L691.0,1775.7 L694.0,1777.4 L697.0,1779.2 L700.0,1781.0 L703.0,1782.8 L706.0,1784.7 L709.0,1786.6 L712.0,1788.6 L715.0,1790.6 L718.0,1792.6 L721.0,1794.6 L724.0,1796.6 L727.0,1798.7 L730.0,1800.8 L733.0,1802.9 L736.0,1805.1 L739.0,1807.2 L742.0,1809.4 L745.0,1811.5 L748.0,1813.7 L751.0,1815.9 L754.0,1818.1 L757.0,1820.3 L760.0,1822.5 L763.0,1824.7 L766.0,1826.9 L769.0,1829.1 L772.0,1831.3 L775.0,1833.5 L778.0,1835.7 L781.0,1837.9 L784.0,1840.0 L787.0,1842.2 L790.0,1844.3 L793.0,1846.4 L796.0,1848.5 L799.0,1850.6 L802.0,1852.7 L805.0,1854.7 L808.0,1856.7 L811.0,1858.7 L814.0,1860.7 L817.0,1862.6 L820.0,1864.6 L823.0,1866.5 L826.0,1868.5 L829.0,1870.4 L832.0,1872.4 L835.0,1874.4 L838.0,1876.4 L841.0,1878.4 L844.0,1880.5 L847.0,1882.6 L850.0,1884.7 L853.0,1886.9 L856.0,1889.1 L859.0,1891.4 L862.0,1893.8 L865.0,1896.2 L868.0,1898.7 L871.0,1901.3 L874.0,1903.9 L877.0,1906.6 L880.0,1909.4 L883.0,1912.2 L886.0,1915.0 L889.0,1918.0 L892.0,1920.9 L895.0,1924.0 L898.0,1927.0 L901.0,1930.1 L904.0,1933.3 L907.0,1936.4 L910.0,1939.6 L913.0,1942.8 L916.0,1946.1 L919.0,1949.3 L922.0,1952.6 L925.0,1955.9 L928.0,1959.2 L931.0,1962.5 L934.0,1965.8 L937.0,1969.1 L940.0,1972.4 L943.0,1975.6 L946.0,1978.9 L949.0,1982.1 L952.0,1985.4 L955.0,1988.6 L958.0,1991.8 L961.0,1994.9 L964.0,1998.0 L967.0,2001.1 L970.0,2004.1 L973.0,2007.1 L976.0,2010.1 L979.0,2013.1 L982.0,2016.0 L985.0,2018.9 L988.0,2021.8 L991.0,2024.7 L994.0,2027.5 L997.0,2030.4 L1000.0,2033.2 L1003.0,2036.0 L1006.0,2038.9 L1009.0,2041.7 L1012.0,2044.5 L1015.0,2047.3 L1018.0,2050.2 L1021.0,2053.0 L1024.0,2055.9 L1027.0,2058.7 L1030.0,2061.6 L1033.0,2064.5 L1036.0,2067.4 L1039.0,2070.4 L1042.0,2073.3 L1045.0,2076.3 L1048.0,2079.4 L1051.0,2082.4 L1054.0,2085.5 L1057.0,2088.7 L1060.0,2091.8 L1063.0,2095.1 L1066.0,2098.3 L1069.0,2101.7 L1072.0,2105.0 L1075.0,2108.4 L1078.0,2111.9 L1081.0,2115.4 L1084.0,2119.0 L1087.0,2122.6 L1090.0,2126.3 L1093.0,2130.0 L1096.0,2133.7 L1099.0,2137.5 L1102.0,2141.3 L1105.0,2145.2 L1108.0,2149.0 L1111.0,2152.9 L1114.0,2156.9 L1117.0,2160.8 L1120.0,2164.8 L1123.0,2168.8 L1126.0,2172.8 L1129.0,2176.8 L1132.0,2180.9 L1135.0,2184.9 L1138.0,2189.0 L1141.0,2193.0 L1144.0,2197.1 L1147.0,2201.2 L1150.0,2205.3 L1153.0,2209.3 L1156.0,2213.4 L1159.0,2217.5 L1162.0,2221.5 L1165.0,2225.6 L1168.0,2229.6 L1171.0,2233.6 L1174.0,2237.6 L1177.0,2241.6 L1180.0,2245.6 L1183.0,2249.5 L1186.0,2253.4 L1189.0,2257.3 L1192.0,2261.2 L1195.0,2265.0 L1198.0,2268.8 L1201.0,2272.5 L1204.0,2276.3 L1207.0,2279.9 L1210.0,2283.6 L1213.0,2287.2 L1216.0,2290.7 L1219.0,2294.2 L1222.0,2297.6 L1225.0,2301.0 L1228.0,2304.4 L1231.0,2307.7 L1234.0,2311.0 L1237.0,2314.2 L1240.0,2317.4 L1243.0,2320.7 L1246.0,2323.9 L1249.0,2327.1 L1252.0,2330.4 L1255.0,2333.6 L1258.0,2336.9 L1261.0,2340.3 L1264.0,2343.7 L1267.0,2347.1 L1270.0,2350.6 L1273.0,2354.2 L1276.0,2357.8 L1279.0,2361.6 L1282.0,2365.4 L1285.0,2369.3 L1288.0,2373.2 L1291.0,2377.3 L1294.0,2381.3 L1297.0,2385.5 L1300.0,2389.7 L1303.0,2393.9 L1306.0,2398.1 L1309.0,2402.4 L1312.0,2406.6 L1315.0,2410.9 L1318.0,2415.2 L1321.0,2419.5 L1324.0,2423.7 L1327.0,2428.0 L1330.0,2432.2 L1333.0,2436.4 L1336.0,2440.5 L1339.0,2444.6 L1342.0,2448.6 L1345.0,2452.6 L1348.0,2456.5 L1351.0,2460.4 L1354.0,2464.2 L1357.0,2468.0 L1360.0,2471.7 L1363.0,2475.3 L1366.0,2478.9 L1369.0,2482.5 L1372.0,2486.0 L1375.0,2489.5 L1378.0,2492.9 L1381.0,2496.3 L1384.0,2499.7 L1387.0,2503.0 L1390.0,2506.3 L1393.0,2509.6 L1396.0,2512.8 L1399.0,2516.0 L1402.0,2519.2 L1405.0,2522.4 L1408.0,2525.5 L1411.0,2528.7 L1414.0,2531.8 L1417.0,2534.8 L1420.0,2537.9 L1423.0,2541.0 L1426.0,2544.0 L1429.0,2547.1 L1432.0,2550.1 L1435.0,2553.1 L1438.0,2556.2 L1441.0,2559.2 L1444.0,2562.2 L1447.0,2565.3 L1450.0,2568.3 L1453.0,2571.4 L1456.0,2574.4 L1459.0,2577.5 L1462.0,2580.6 L1465.0,2583.7 L1468.0,2586.8 L1471.0,2589.9 L1474.0,2593.0 L1477.0,2596.2 L1480.0,2599.4 L1483.0,2602.6 L1486.0,2605.9 L1489.0,2609.1 L1492.0,2612.5 L1495.0,2615.8 L1498.0,2619.2 L1501.0,2622.6 L1504.0,2626.0 L1507.0,2629.5 L1510.0,2633.1 L1513.0,2636.7 L1516.0,2640.3 L1519.0,2643.9 L1522.0,2647.6 L1525.0,2651.3 L1528.0,2655.1 L1531.0,2658.8 L1534.0,2662.6 L1537.0,2666.4 L1540.0,2670.2 L1543.0,2674.0 L1546.0,2677.7 L1549.0,2681.5 L1552.0,2685.3 L1555.0,2689.0 L1558.0,2692.7 L1561.0,2696.4 L1564.0,2700.0 L1567.0,2703.6 L1570.0,2707.2 L1573.0,2710.7 L1576.0,2714.2 L1579.0,2717.5 L1582.0,2720.9 L1585.0,2724.1 L1588.0,2727.3 L1591.0,2730.5 L1594.0,2733.5 L1597.0,2736.4 L1600.0,2739.3 L1603.0,2742.0 L1606.0,2744.7 L1609.0,2747.2 L1612.0,2749.7 L1615.0,2752.0 L1618.0,2754.2 L1621.0,2756.3 L1624.0,2758.3 L1627.0,2760.3 L1630.0,2762.1 L1633.0,2763.8 L1636.0,2765.4 L1639.0,2767.0 L1642.0,2768.5 L1645.0,2769.9 L1648.0,2771.2 L1651.0,2772.4 L1654.0,2773.6 L1657.0,2774.7 L1660.0,2775.7 L1663.0,2776.7 L1666.0,2777.7 L1669.0,2778.5 L1672.0,2779.4 L1675.0,2780.1 L1678.0,2780.9 L1681.0,2781.6 L1684.0,2782.2 L1687.0,2782.9 L1690.0,2783.5 L1693.0,2784.0 L1696.0,2784.6 L1699.0,2785.1 L1702.0,2785.5 L1705.0,2786.0 L1708.0,2786.4 L1711.0,2786.8 L1714.0,2787.2 L1717.0,2787.5 L1720.0,2787.9 L1723.0,2788.2 L1726.0,2788.4 L1729.0,2788.7 L1732.0,2788.9 L1735.0,2789.1 L1738.0,2789.3 L1741.0,2789.5 L1744.0,2789.7 L1747.0,2789.8 L1750.0,2789.9 L1753.0,2790.1 L1756.0,2790.1 L1759.0,2790.2 L1762.0,2790.3 L1765.0,2790.3 L1768.0,2790.4 L1771.0,2790.4 L1774.0,2790.4 L1777.0,2790.4 L1780.0,2790.4 L1783.0,2790.4 L1786.0,2790.4 L1789.0,2790.3 L1792.0,2790.3 L1795.0,2790.3 L1798.0,2790.2 L1801.0,2790.2 L1804.0,2790.1 L1807.0,2790.0 L1810.0,2790.0 L1813.0,2789.9 L1816.0,2789.8 L1819.0,2789.7 L1822.0,2789.7 L1825.0,2789.6 L1828.0,2789.5 L1831.0,2789.5 L1834.0,2789.4 L1837.0,2789.3 L1840.0,2789.3 L1843.0,2789.2 L1846.0,2789.2 L1849.0,2789.1 L1852.0,2789.1 L1855.0,2789.0 L1858.0,2789.0 L1861.0,2789.0 L1864.0,2789.0 L1867.0,2789.0 L1870.0,2789.0 L1873.0,2789.1 L1876.0,2789.1 L1879.0,2789.2 L1882.0,2789.2 L1885.0,2789.3 L1888.0,2789.4 L1891.0,2789.5 L1894.0,2789.6 L1897.0,2789.8 L1900.0,2789.9 L1903.0,2790.1 L1906.0,2790.2 L1909.0,2790.4 L1912.0,2790.6 L1915.0,2790.8 L1918.0,2791.0 L1921.0,2791.2 L1924.0,2791.4 L1927.0,2791.6 L1930.0,2791.9 L1933.0,2792.1 L1936.0,2792.4 L1939.0,2792.6 L1942.0,2792.9 L1945.0,2793.2 L1948.0,2793.4 L1951.0,2793.7 L1954.0,2794.0 L1957.0,2794.3 L1960.0,2794.6 L1963.0,2794.9 L1966.0,2795.2 L1969.0,2795.5 L1972.0,2795.8 L1975.0,2796.1 L1978.0,2796.4 L1981.0,2796.7 L1984.0,2797.0 L1987.0,2797.3 L1990.0,2797.6 L1993.0,2797.9 L1996.0,2798.2 L1999.0,2798.5 L2002.0,2798.8 L2005.0,2799.1 L2008.0,2799.4 L2011.0,2799.6 L2014.0,2799.9 L2017.0,2800.2 L2020.0,2800.5 L2023.0,2800.8 L2026.0,2801.0 L2029.0,2801.3 L2032.0,2801.5 L2035.0,2801.8 L2038.0,2802.0 L2041.0,2802.3 L2044.0,2802.5 L2047.0,2802.7 L2050.0,2802.9 L2053.0,2803.1 L2056.0,2803.3 L2059.0,2803.5 L2062.0,2803.7 L2065.0,2803.8 L2068.0,2804.0 L2071.0,2804.1 L2074.0,2804.2 L2077.0,2804.3 L2080.0,2804.4 L2083.0,2804.5 L2086.0,2804.6 L2089.0,2804.7 L2092.0,2804.7 L2095.0,2804.8 L2098.0,2804.8 L2101.0,2804.8 L2104.0,2804.8 L2107.0,2804.7 L2110.0,2804.7 L2113.0,2804.6 L2116.0,2804.5 L2119.0,2804.4 L2122.0,2804.3 L2125.0,2804.2 L2128.0,2804.0 L2131.0,2803.9 L2134.0,2803.7 L2137.0,2803.5 L2140.0,2803.2 L2143.0,2803.0" fill="none" stroke="#000" stroke-width="6" stroke-linejoin="round" stroke-dasharray="15 7"/>
<polygon points="337,2381 324,2404.4 350,2404.4" fill="#fff" stroke="#000" stroke-width="5"/>
<polygon points="537,1837 524,1860.4 550,1860.4" fill="#fff" stroke="#000" stroke-width="5"/>
<polygon points="807,1840 794,1863.4 820,1863.4" fill="#fff" stroke="#000" stroke-width="5"/>
<polygon points="1074,2087 1061,2110.4 1087,2110.4" fill="#fff" stroke="#000" stroke-width="5"/>
<polygon points="1344,2411 1331,2434.4 1357,2434.4" fill="#fff" stroke="#000" stroke-width="5"/>
<polygon points="1611,2697 1598,2720.4 1624,2720.4" fill="#fff" stroke="#000" stroke-width="5"/>
<polygon points="1880,2719 1867,2742.4 1893,2742.4" fill="#fff" stroke="#000" stroke-width="5"/>
<polygon points="2148,2690 2135,2713.4 2161,2713.4" fill="#fff" stroke="#000" stroke-width="5"/>
<polygon points="337,2407 324,2383.6 350,2383.6" fill="#fff" stroke="#000" stroke-width="5"/>
<polygon points="537,1870 524,1846.6 550,1846.6" fill="#fff" stroke="#000" stroke-width="5"/>
<polygon points="807,1879 794,1855.6 820,1855.6" fill="#fff" stroke="#000" stroke-width="5"/>
<polygon points="1074,2116 1061,2092.6 1087,2092.6" fill="#fff" stroke="#000" stroke-width="5"/>
<polygon points="1344,2441 1331,2417.6 1357,2417.6" fill="#fff" stroke="#000" stroke-width="5"/>
<polygon points="1611,2727 1598,2703.6 1624,2703.6" fill="#fff" stroke="#000" stroke-width="5"/>
<polygon points="1880,2780 1867,2756.6 1893,2756.6" fill="#fff" stroke="#000" stroke-width="5"/>
<polygon points="2148,2713 2135,2689.6 2161,2689.6" fill="#fff" stroke="#000" stroke-width="5"/>
<circle cx="327" cy="2375" r="11" fill="#fff" stroke="#000" stroke-width="5"/>
<circle cx="540" cy="1789" r="11" fill="#fff" stroke="#000" stroke-width="5"/>
<circle cx="806" cy="1855" r="11" fill="#fff" stroke="#000" stroke-width="5"/>
<circle cx="1075" cy="2117" r="11" fill="#fff" stroke="#000" stroke-width="5"/>
<circle cx="1342.5" cy="2448.8" r="11" fill="#fff" stroke="#000" stroke-width="5"/>
<circle cx="1611" cy="2748" r="11" fill="#fff" stroke="#000" stroke-width="5"/>
<circle cx="1880" cy="2790" r="11" fill="#fff" stroke="#000" stroke-width="5"/>
<circle cx="2148" cy="2803" r="11" fill="#fff" stroke="#000" stroke-width="5"/>
<rect x="271" y="1531" width="1877" height="1280" fill="none" stroke="#000" stroke-width="7"/>
<rect x="1104.5" y="1645" width="964" height="310" fill="#fff"/>
<line x1="1100" y1="1645" x2="2073" y2="1645" stroke="#000" stroke-width="9" />
<line x1="1104.5" y1="1641" x2="1104.5" y2="1946" stroke="#000" stroke-width="8" />
<line x1="2068.5" y1="1641" x2="2068.5" y2="1960" stroke="#000" stroke-width="9" />
<line x1="1112" y1="1955" x2="2073" y2="1955" stroke="#000" stroke-width="7" />
<line x1="1116" y1="1649" x2="1116" y2="1944" stroke="#000" stroke-width="6.5" />
<line x1="1112" y1="1941" x2="2058" y2="1941" stroke="#000" stroke-width="5" />
<line x1="2056.5" y1="1649" x2="2056.5" y2="1946" stroke="#000" stroke-width="3.5" />
<line x1="1124" y1="1680" x2="1228" y2="1680" stroke="#1c0509" stroke-width="5" />
<polygon points="1173,1670 1162,1689.8 1184,1689.8" fill="#fff" stroke="#000" stroke-width="5"/>
<line x1="1123" y1="1837" x2="1230" y2="1837" stroke="#1c0509" stroke-width="5" />
<polygon points="1172,1848 1161,1828.2 1183,1828.2" fill="#fff" stroke="#000" stroke-width="5"/>
<line x1="1119" y1="1916.5" x2="1236" y2="1916.5" stroke="#1c0509" stroke-width="5" />
<circle cx="1174" cy="1917" r="11" fill="#fff" stroke="#000" stroke-width="6"/>
<text transform="translate(147.67,72.19) scale(0.6090,0.6070)" font-family="Liberation Sans, sans-serif" font-weight="bold" font-size="100">8.5</text>
<text transform="translate(147.66,212.37) scale(0.6136,0.6254)" font-family="Liberation Sans, sans-serif" font-weight="bold" font-size="100">8.0</text>
<text transform="translate(150.14,349.86) scale(0.5909,0.6357)" font-family="Liberation Sans, sans-serif" font-weight="bold" font-size="100">7.5</text>
<text transform="translate(144.97,488.36) scale(0.6336,0.6408)" font-family="Liberation Sans, sans-serif" font-weight="bold" font-size="100">7.0</text>
<text transform="translate(147.05,630.37) scale(0.6136,0.6268)" font-family="Liberation Sans, sans-serif" font-weight="bold" font-size="100">6.5</text>
<text transform="translate(145.97,764.36) scale(0.6336,0.6380)" font-family="Liberation Sans, sans-serif" font-weight="bold" font-size="100">6.0</text>
<text transform="translate(147.67,902.86) scale(0.6090,0.6357)" font-family="Liberation Sans, sans-serif" font-weight="bold" font-size="100">5.5</text>
<text transform="translate(147.66,1042.38) scale(0.6136,0.6197)" font-family="Liberation Sans, sans-serif" font-weight="bold" font-size="100">5.0</text>
<text transform="translate(147.28,1180.36) scale(0.6119,0.6429)" font-family="Liberation Sans, sans-serif" font-weight="bold" font-size="100">4.5</text>
<text transform="translate(147.27,1321.38) scale(0.6165,0.6197)" font-family="Liberation Sans, sans-serif" font-weight="bold" font-size="100">4.0</text>
<text transform="translate(256.76,1369.37) scale(0.6596,0.6338)" font-family="Liberation Sans, sans-serif" font-weight="bold" font-size="100">0</text>
<text transform="translate(478.37,1369.37) scale(0.6051,0.6338)" font-family="Liberation Sans, sans-serif" font-weight="bold" font-size="100">100</text>
<text transform="translate(741.68,1369.37) scale(0.6400,0.6338)" font-family="Liberation Sans, sans-serif" font-weight="bold" font-size="100">200</text>
<text transform="translate(1011.73,1369.37) scale(0.6335,0.6338)" font-family="Liberation Sans, sans-serif" font-weight="bold" font-size="100">300</text>
<text transform="translate(1283.80,1369.37) scale(0.6025,0.6338)" font-family="Liberation Sans, sans-serif" font-weight="bold" font-size="100">400</text>
<text transform="translate(1554.11,1369.37) scale(0.6312,0.6338)" font-family="Liberation Sans, sans-serif" font-weight="bold" font-size="100">500</text>
<text transform="translate(1820.43,1369.37) scale(0.6415,0.6338)" font-family="Liberation Sans, sans-serif" font-weight="bold" font-size="100">600</text>
<text transform="translate(2092.56,1369.37) scale(0.6101,0.6338)" font-family="Liberation Sans, sans-serif" font-weight="bold" font-size="100">700</text>
<text transform="translate(965.71,1477.04) scale(0.5936,0.6170)" font-family="Liberation Sans, sans-serif" font-weight="bold" font-size="100">Temperature /°C</text>
<text transform="translate(83.03,1069.56) rotate(-90) scale(0.5564,0.7128)" font-family="Liberation Sans, sans-serif" font-weight="bold" font-size="100">Thermal Diffusivity /(mm^2/s)</text>
<text transform="translate(252.02,138.66) scale(1.1636,1.0160)" font-family="Liberation Sans, sans-serif" font-weight="normal" font-size="100" stroke="#fff" stroke-width="6" vector-effect="non-scaling-stroke" stroke-linejoin="round" paint-order="stroke">(a)</text>
<text transform="translate(432.98,966.27) scale(0.5685,0.4797)" font-family="Liberation Sans, sans-serif" font-weight="bold" font-size="100" stroke="#000" stroke-width="2.5" vector-effect="non-scaling-stroke" stroke-linejoin="round">Cr3C2-NiCr</text>
<text transform="translate(785.77,968.52) scale(0.6193,0.6064)" font-family="Liberation Sans, sans-serif" font-weight="normal" font-size="100" stroke="#000" stroke-width="2.5" vector-effect="non-scaling-stroke" stroke-linejoin="round">- Diffusivity</text>
<text transform="translate(405.70,1119.05) scale(0.5617,0.5000)" font-family="Liberation Sans, sans-serif" font-weight="bold" font-size="100" stroke="#000" stroke-width="2.5" vector-effect="non-scaling-stroke" stroke-linejoin="round">Cr3C2-NiCr+Al</text>
<text transform="translate(818.77,1118.80) scale(0.6201,0.5691)" font-family="Liberation Sans, sans-serif" font-weight="normal" font-size="100" stroke="#000" stroke-width="2.5" vector-effect="non-scaling-stroke" stroke-linejoin="round">- Diffusivity</text>
<text transform="translate(378.40,1199.59) scale(0.5616,0.4635)" font-family="Liberation Sans, sans-serif" font-weight="bold" font-size="100" stroke="#000" stroke-width="2.5" vector-effect="non-scaling-stroke" stroke-linejoin="round">ductile iron</text>
<text transform="translate(674.95,1200.84) scale(0.6084,0.5979)" font-family="Liberation Sans, sans-serif" font-weight="normal" font-size="100" stroke="#000" stroke-width="1.2" vector-effect="non-scaling-stroke" stroke-linejoin="round">(ZSF) - Diffusivity</text>
<text transform="translate(185.66,1552.82) scale(0.6714,0.6761)" font-family="Liberation Sans, sans-serif" font-weight="bold" font-size="100">32</text>
<text transform="translate(185.71,1740.32) scale(0.6438,0.6761)" font-family="Liberation Sans, sans-serif" font-weight="bold" font-size="100">30</text>
<text transform="translate(183.53,1919.32) scale(0.6581,0.6761)" font-family="Liberation Sans, sans-serif" font-weight="bold" font-size="100">28</text>
<text transform="translate(183.51,2109.93) scale(0.6644,0.6746)" font-family="Liberation Sans, sans-serif" font-weight="bold" font-size="100">26</text>
<text transform="translate(183.58,2283.50) scale(0.6398,0.6857)" font-family="Liberation Sans, sans-serif" font-weight="bold" font-size="100">24</text>
<text transform="translate(183.51,2467.00) scale(0.6644,0.7071)" font-family="Liberation Sans, sans-serif" font-weight="bold" font-size="100">22</text>
<text transform="translate(183.51,2648.32) scale(0.6644,0.6761)" font-family="Liberation Sans, sans-serif" font-weight="bold" font-size="100">20</text>
<text transform="translate(187.26,2832.92) scale(0.6235,0.6761)" font-family="Liberation Sans, sans-serif" font-weight="bold" font-size="100">18</text>
<text transform="translate(276.11,2882.34) scale(0.7234,0.6620)" font-family="Liberation Sans, sans-serif" font-weight="bold" font-size="100">0</text>
<text transform="translate(492.18,2882.34) scale(0.6369,0.6620)" font-family="Liberation Sans, sans-serif" font-weight="bold" font-size="100">100</text>
<text transform="translate(757.05,2882.34) scale(0.6500,0.6620)" font-family="Liberation Sans, sans-serif" font-weight="bold" font-size="100">200</text>
<text transform="translate(1028.70,2882.34) scale(0.6522,0.6620)" font-family="Liberation Sans, sans-serif" font-weight="bold" font-size="100">300</text>
<text transform="translate(1295.80,2882.34) scale(0.6025,0.6620)" font-family="Liberation Sans, sans-serif" font-weight="bold" font-size="100">400</text>
<text transform="translate(1566.18,2882.34) scale(0.6062,0.6620)" font-family="Liberation Sans, sans-serif" font-weight="bold" font-size="100">500</text>
<text transform="translate(1832.43,2882.34) scale(0.6415,0.6620)" font-family="Liberation Sans, sans-serif" font-weight="bold" font-size="100">600</text>
<text transform="translate(2104.56,2882.34) scale(0.6101,0.6620)" font-family="Liberation Sans, sans-serif" font-weight="bold" font-size="100">700</text>
<text transform="translate(980.20,2992.75) scale(0.5955,0.6309)" font-family="Liberation Sans, sans-serif" font-weight="bold" font-size="100">Temperature /°C</text>
<text transform="translate(102.48,2597.56) rotate(-90) scale(0.5625,0.6915)" font-family="Liberation Sans, sans-serif" font-weight="bold" font-size="100">Thermal Conductivity /(W/(m*K))</text>
<text transform="translate(321.20,1640.43) scale(1.3000,1.1702)" font-family="Liberation Sans, sans-serif" font-weight="normal" font-size="100">(b)</text>
<text transform="translate(1249.56,1698.28) scale(0.5099,0.4243)" font-family="Liberation Sans, sans-serif" font-weight="bold" font-size="100" stroke="#000" stroke-width="1.2" vector-effect="non-scaling-stroke" stroke-linejoin="round">Cr3C2-NiCr</text>
<text transform="translate(1593.80,1698.42) scale(0.6131,0.5394)" font-family="Liberation Sans, sans-serif" font-weight="normal" font-size="100" stroke="#000" stroke-width="2.5" vector-effect="non-scaling-stroke" stroke-linejoin="round">- Conductivity</text>
<text transform="translate(1228.49,1847.77) scale(0.5266,0.4448)" font-family="Liberation Sans, sans-serif" font-weight="bold" font-size="100" stroke="#000" stroke-width="1.2" vector-effect="non-scaling-stroke" stroke-linejoin="round">Cr<tspan font-size="34" dy="23">3</tspan><tspan dy="-23">C</tspan><tspan font-size="34" dy="23">2</tspan><tspan dy="-23">-NiCr+Al</tspan></text>
<text transform="translate(1632.84,1853.75) scale(0.6027,0.5713)" font-family="Liberation Sans, sans-serif" font-weight="normal" font-size="100" stroke="#000" stroke-width="2.5" vector-effect="non-scaling-stroke" stroke-linejoin="round">- Conductivity</text>
<text transform="translate(1231.68,1924.43) scale(0.4788,0.3730)" font-family="Liberation Sans, sans-serif" font-weight="bold" font-size="100" stroke="#000" stroke-width="1.2" vector-effect="non-scaling-stroke" stroke-linejoin="round">ductile iron</text>
<g clip-path="url(#clb3)"><text transform="translate(1481.34,1935.89) scale(0.6106,0.5957)" font-family="Liberation Sans, sans-serif" font-weight="normal" font-size="100" stroke="#000" stroke-width="1.2" vector-effect="non-scaling-stroke" stroke-linejoin="round">(ZSF) - Conductivity</text></g></svg></body></html>
